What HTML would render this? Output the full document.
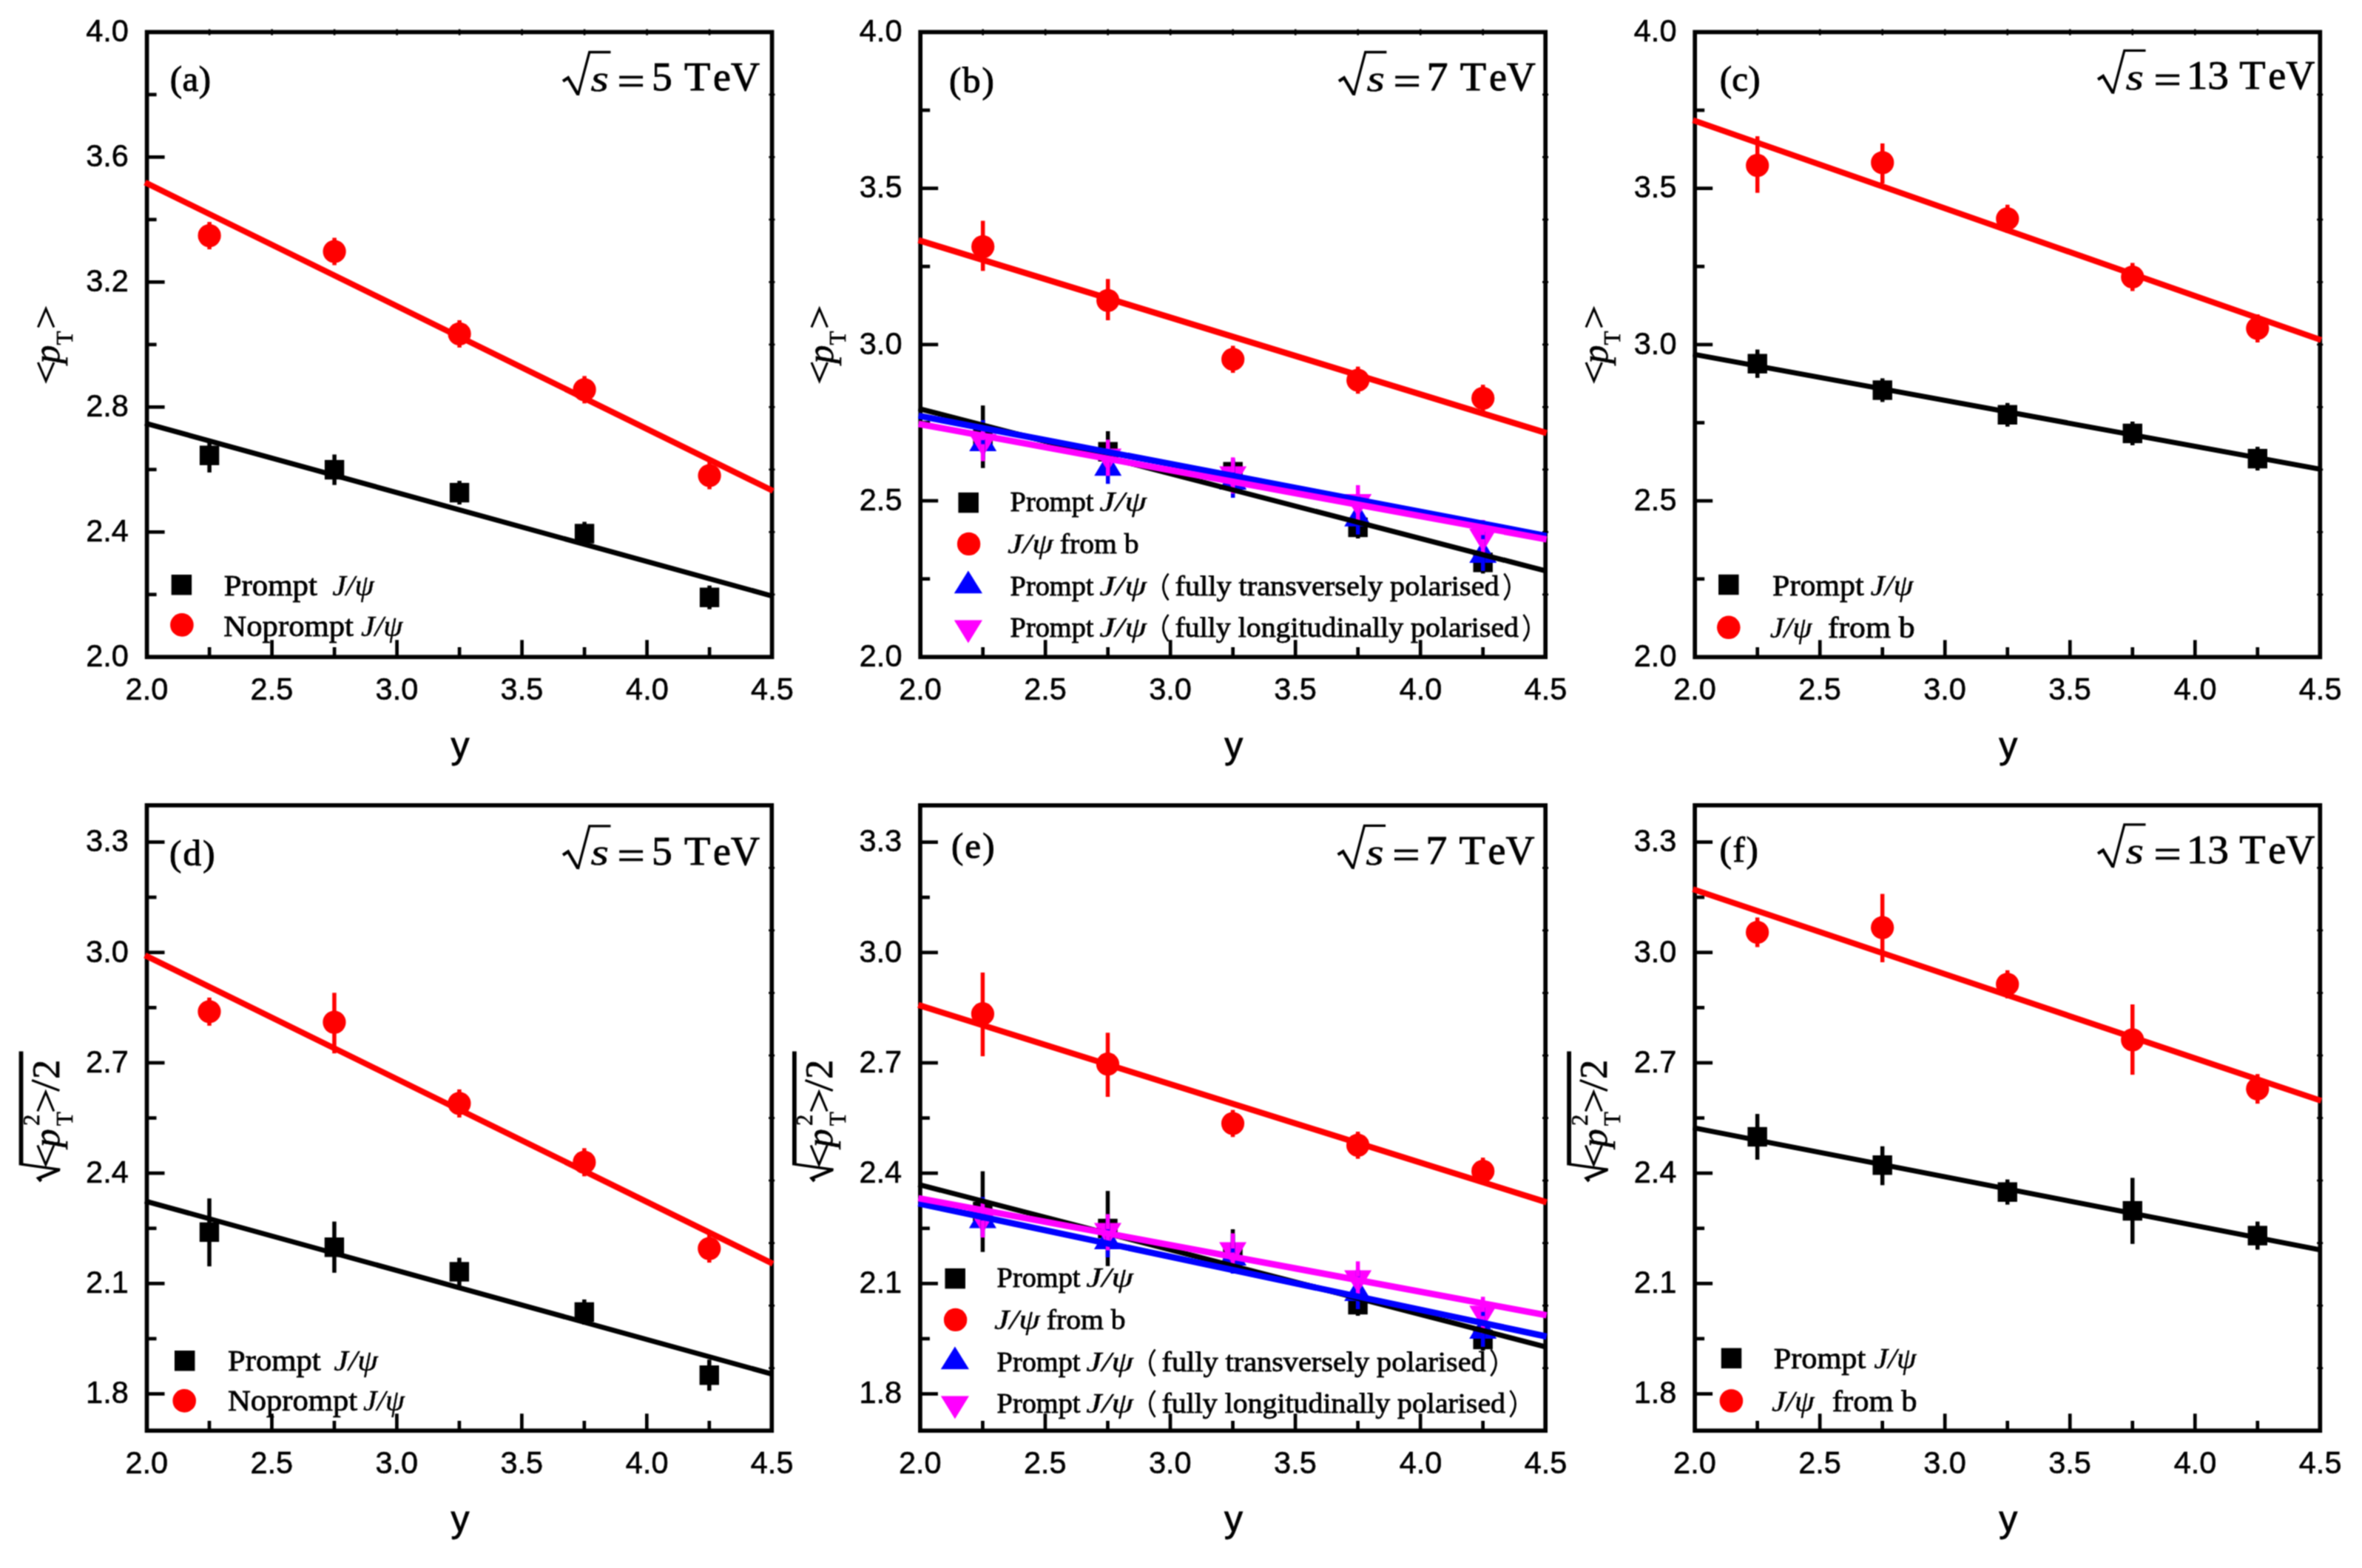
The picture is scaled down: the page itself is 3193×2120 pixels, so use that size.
<!DOCTYPE html>
<html><head><meta charset="utf-8"><title>chart</title>
<style>html,body{margin:0;padding:0;background:#fff}svg{display:block}text{font-kerning:none}</style></head>
<body><svg width="3193" height="2120" viewBox="0 0 3193 2120">
<defs><filter id="soft" color-interpolation-filters="sRGB" x="0" y="0" width="3193" height="2120" filterUnits="userSpaceOnUse"><feConvolveMatrix order="3" kernelMatrix="1 2 1 2 4 2 1 2 1" divisor="16" edgeMode="duplicate" preserveAlpha="true"/></filter></defs>
<rect width="3193" height="2120" fill="#fff"/>
<g filter="url(#soft)">
<rect width="3193" height="2120" fill="#fff"/>
<rect x="198.60" y="43.40" width="845.00" height="844.90" fill="none" stroke="#000" stroke-width="5.7"/>
<line x1="283.10" y1="888.30" x2="283.10" y2="875.00" stroke="#000" stroke-width="4.7" stroke-linecap="butt"/>
<line x1="367.60" y1="888.30" x2="367.60" y2="865.30" stroke="#000" stroke-width="4.7" stroke-linecap="butt"/>
<line x1="452.10" y1="888.30" x2="452.10" y2="875.00" stroke="#000" stroke-width="4.7" stroke-linecap="butt"/>
<line x1="536.60" y1="888.30" x2="536.60" y2="865.30" stroke="#000" stroke-width="4.7" stroke-linecap="butt"/>
<line x1="621.10" y1="888.30" x2="621.10" y2="875.00" stroke="#000" stroke-width="4.7" stroke-linecap="butt"/>
<line x1="705.60" y1="888.30" x2="705.60" y2="865.30" stroke="#000" stroke-width="4.7" stroke-linecap="butt"/>
<line x1="790.10" y1="888.30" x2="790.10" y2="875.00" stroke="#000" stroke-width="4.7" stroke-linecap="butt"/>
<line x1="874.60" y1="888.30" x2="874.60" y2="865.30" stroke="#000" stroke-width="4.7" stroke-linecap="butt"/>
<line x1="959.10" y1="888.30" x2="959.10" y2="875.00" stroke="#000" stroke-width="4.7" stroke-linecap="butt"/>
<line x1="198.60" y1="212.38" x2="222.60" y2="212.38" stroke="#000" stroke-width="4.7" stroke-linecap="butt"/>
<line x1="198.60" y1="381.36" x2="222.60" y2="381.36" stroke="#000" stroke-width="4.7" stroke-linecap="butt"/>
<line x1="198.60" y1="550.34" x2="222.60" y2="550.34" stroke="#000" stroke-width="4.7" stroke-linecap="butt"/>
<line x1="198.60" y1="719.32" x2="222.60" y2="719.32" stroke="#000" stroke-width="4.7" stroke-linecap="butt"/>
<line x1="198.60" y1="127.89" x2="211.60" y2="127.89" stroke="#000" stroke-width="4.7" stroke-linecap="butt"/>
<line x1="198.60" y1="296.87" x2="211.60" y2="296.87" stroke="#000" stroke-width="4.7" stroke-linecap="butt"/>
<line x1="198.60" y1="465.85" x2="211.60" y2="465.85" stroke="#000" stroke-width="4.7" stroke-linecap="butt"/>
<line x1="198.60" y1="634.83" x2="211.60" y2="634.83" stroke="#000" stroke-width="4.7" stroke-linecap="butt"/>
<line x1="198.60" y1="803.81" x2="211.60" y2="803.81" stroke="#000" stroke-width="4.7" stroke-linecap="butt"/>
<line x1="1039.40" y1="127.89" x2="1047.50" y2="127.89" stroke="#000" stroke-width="2.6" stroke-linecap="butt"/>
<line x1="1039.40" y1="212.38" x2="1047.50" y2="212.38" stroke="#000" stroke-width="2.6" stroke-linecap="butt"/>
<line x1="1039.40" y1="296.87" x2="1047.50" y2="296.87" stroke="#000" stroke-width="2.6" stroke-linecap="butt"/>
<line x1="1039.40" y1="381.36" x2="1047.50" y2="381.36" stroke="#000" stroke-width="2.6" stroke-linecap="butt"/>
<line x1="1039.40" y1="465.85" x2="1047.50" y2="465.85" stroke="#000" stroke-width="2.6" stroke-linecap="butt"/>
<line x1="1039.40" y1="550.34" x2="1047.50" y2="550.34" stroke="#000" stroke-width="2.6" stroke-linecap="butt"/>
<line x1="1039.40" y1="634.83" x2="1047.50" y2="634.83" stroke="#000" stroke-width="2.6" stroke-linecap="butt"/>
<line x1="1039.40" y1="719.32" x2="1047.50" y2="719.32" stroke="#000" stroke-width="2.6" stroke-linecap="butt"/>
<line x1="1039.40" y1="803.81" x2="1047.50" y2="803.81" stroke="#000" stroke-width="2.6" stroke-linecap="butt"/>
<line x1="283.10" y1="39.50" x2="283.10" y2="47.60" stroke="#000" stroke-width="2.6" stroke-linecap="butt"/>
<line x1="367.60" y1="39.50" x2="367.60" y2="47.60" stroke="#000" stroke-width="2.6" stroke-linecap="butt"/>
<line x1="452.10" y1="39.50" x2="452.10" y2="47.60" stroke="#000" stroke-width="2.6" stroke-linecap="butt"/>
<line x1="536.60" y1="39.50" x2="536.60" y2="47.60" stroke="#000" stroke-width="2.6" stroke-linecap="butt"/>
<line x1="621.10" y1="39.50" x2="621.10" y2="47.60" stroke="#000" stroke-width="2.6" stroke-linecap="butt"/>
<line x1="705.60" y1="39.50" x2="705.60" y2="47.60" stroke="#000" stroke-width="2.6" stroke-linecap="butt"/>
<line x1="790.10" y1="39.50" x2="790.10" y2="47.60" stroke="#000" stroke-width="2.6" stroke-linecap="butt"/>
<line x1="874.60" y1="39.50" x2="874.60" y2="47.60" stroke="#000" stroke-width="2.6" stroke-linecap="butt"/>
<line x1="959.10" y1="39.50" x2="959.10" y2="47.60" stroke="#000" stroke-width="2.6" stroke-linecap="butt"/>
<rect x="1244.20" y="43.40" width="845.00" height="844.90" fill="none" stroke="#000" stroke-width="5.7"/>
<line x1="1328.70" y1="888.30" x2="1328.70" y2="875.00" stroke="#000" stroke-width="4.7" stroke-linecap="butt"/>
<line x1="1413.20" y1="888.30" x2="1413.20" y2="865.30" stroke="#000" stroke-width="4.7" stroke-linecap="butt"/>
<line x1="1497.70" y1="888.30" x2="1497.70" y2="875.00" stroke="#000" stroke-width="4.7" stroke-linecap="butt"/>
<line x1="1582.20" y1="888.30" x2="1582.20" y2="865.30" stroke="#000" stroke-width="4.7" stroke-linecap="butt"/>
<line x1="1666.70" y1="888.30" x2="1666.70" y2="875.00" stroke="#000" stroke-width="4.7" stroke-linecap="butt"/>
<line x1="1751.20" y1="888.30" x2="1751.20" y2="865.30" stroke="#000" stroke-width="4.7" stroke-linecap="butt"/>
<line x1="1835.70" y1="888.30" x2="1835.70" y2="875.00" stroke="#000" stroke-width="4.7" stroke-linecap="butt"/>
<line x1="1920.20" y1="888.30" x2="1920.20" y2="865.30" stroke="#000" stroke-width="4.7" stroke-linecap="butt"/>
<line x1="2004.70" y1="888.30" x2="2004.70" y2="875.00" stroke="#000" stroke-width="4.7" stroke-linecap="butt"/>
<line x1="1244.20" y1="254.62" x2="1268.20" y2="254.62" stroke="#000" stroke-width="4.7" stroke-linecap="butt"/>
<line x1="1244.20" y1="465.85" x2="1268.20" y2="465.85" stroke="#000" stroke-width="4.7" stroke-linecap="butt"/>
<line x1="1244.20" y1="677.07" x2="1268.20" y2="677.07" stroke="#000" stroke-width="4.7" stroke-linecap="butt"/>
<line x1="1244.20" y1="149.01" x2="1257.20" y2="149.01" stroke="#000" stroke-width="4.7" stroke-linecap="butt"/>
<line x1="1244.20" y1="360.24" x2="1257.20" y2="360.24" stroke="#000" stroke-width="4.7" stroke-linecap="butt"/>
<line x1="1244.20" y1="571.46" x2="1257.20" y2="571.46" stroke="#000" stroke-width="4.7" stroke-linecap="butt"/>
<line x1="1244.20" y1="782.69" x2="1257.20" y2="782.69" stroke="#000" stroke-width="4.7" stroke-linecap="butt"/>
<line x1="2085.00" y1="127.89" x2="2093.10" y2="127.89" stroke="#000" stroke-width="2.6" stroke-linecap="butt"/>
<line x1="2085.00" y1="212.38" x2="2093.10" y2="212.38" stroke="#000" stroke-width="2.6" stroke-linecap="butt"/>
<line x1="2085.00" y1="296.87" x2="2093.10" y2="296.87" stroke="#000" stroke-width="2.6" stroke-linecap="butt"/>
<line x1="2085.00" y1="381.36" x2="2093.10" y2="381.36" stroke="#000" stroke-width="2.6" stroke-linecap="butt"/>
<line x1="2085.00" y1="465.85" x2="2093.10" y2="465.85" stroke="#000" stroke-width="2.6" stroke-linecap="butt"/>
<line x1="2085.00" y1="550.34" x2="2093.10" y2="550.34" stroke="#000" stroke-width="2.6" stroke-linecap="butt"/>
<line x1="2085.00" y1="634.83" x2="2093.10" y2="634.83" stroke="#000" stroke-width="2.6" stroke-linecap="butt"/>
<line x1="2085.00" y1="719.32" x2="2093.10" y2="719.32" stroke="#000" stroke-width="2.6" stroke-linecap="butt"/>
<line x1="2085.00" y1="803.81" x2="2093.10" y2="803.81" stroke="#000" stroke-width="2.6" stroke-linecap="butt"/>
<line x1="1328.70" y1="39.50" x2="1328.70" y2="47.60" stroke="#000" stroke-width="2.6" stroke-linecap="butt"/>
<line x1="1413.20" y1="39.50" x2="1413.20" y2="47.60" stroke="#000" stroke-width="2.6" stroke-linecap="butt"/>
<line x1="1497.70" y1="39.50" x2="1497.70" y2="47.60" stroke="#000" stroke-width="2.6" stroke-linecap="butt"/>
<line x1="1582.20" y1="39.50" x2="1582.20" y2="47.60" stroke="#000" stroke-width="2.6" stroke-linecap="butt"/>
<line x1="1666.70" y1="39.50" x2="1666.70" y2="47.60" stroke="#000" stroke-width="2.6" stroke-linecap="butt"/>
<line x1="1751.20" y1="39.50" x2="1751.20" y2="47.60" stroke="#000" stroke-width="2.6" stroke-linecap="butt"/>
<line x1="1835.70" y1="39.50" x2="1835.70" y2="47.60" stroke="#000" stroke-width="2.6" stroke-linecap="butt"/>
<line x1="1920.20" y1="39.50" x2="1920.20" y2="47.60" stroke="#000" stroke-width="2.6" stroke-linecap="butt"/>
<line x1="2004.70" y1="39.50" x2="2004.70" y2="47.60" stroke="#000" stroke-width="2.6" stroke-linecap="butt"/>
<rect x="2291.20" y="43.40" width="845.10" height="845.00" fill="none" stroke="#000" stroke-width="5.7"/>
<line x1="2375.71" y1="888.40" x2="2375.71" y2="875.10" stroke="#000" stroke-width="4.7" stroke-linecap="butt"/>
<line x1="2460.22" y1="888.40" x2="2460.22" y2="865.40" stroke="#000" stroke-width="4.7" stroke-linecap="butt"/>
<line x1="2544.73" y1="888.40" x2="2544.73" y2="875.10" stroke="#000" stroke-width="4.7" stroke-linecap="butt"/>
<line x1="2629.24" y1="888.40" x2="2629.24" y2="865.40" stroke="#000" stroke-width="4.7" stroke-linecap="butt"/>
<line x1="2713.75" y1="888.40" x2="2713.75" y2="875.10" stroke="#000" stroke-width="4.7" stroke-linecap="butt"/>
<line x1="2798.26" y1="888.40" x2="2798.26" y2="865.40" stroke="#000" stroke-width="4.7" stroke-linecap="butt"/>
<line x1="2882.77" y1="888.40" x2="2882.77" y2="875.10" stroke="#000" stroke-width="4.7" stroke-linecap="butt"/>
<line x1="2967.28" y1="888.40" x2="2967.28" y2="865.40" stroke="#000" stroke-width="4.7" stroke-linecap="butt"/>
<line x1="3051.79" y1="888.40" x2="3051.79" y2="875.10" stroke="#000" stroke-width="4.7" stroke-linecap="butt"/>
<line x1="2291.20" y1="254.65" x2="2315.20" y2="254.65" stroke="#000" stroke-width="4.7" stroke-linecap="butt"/>
<line x1="2291.20" y1="465.90" x2="2315.20" y2="465.90" stroke="#000" stroke-width="4.7" stroke-linecap="butt"/>
<line x1="2291.20" y1="677.15" x2="2315.20" y2="677.15" stroke="#000" stroke-width="4.7" stroke-linecap="butt"/>
<line x1="2291.20" y1="149.03" x2="2304.20" y2="149.03" stroke="#000" stroke-width="4.7" stroke-linecap="butt"/>
<line x1="2291.20" y1="360.27" x2="2304.20" y2="360.27" stroke="#000" stroke-width="4.7" stroke-linecap="butt"/>
<line x1="2291.20" y1="571.52" x2="2304.20" y2="571.52" stroke="#000" stroke-width="4.7" stroke-linecap="butt"/>
<line x1="2291.20" y1="782.77" x2="2304.20" y2="782.77" stroke="#000" stroke-width="4.7" stroke-linecap="butt"/>
<line x1="3132.10" y1="127.90" x2="3140.20" y2="127.90" stroke="#000" stroke-width="2.6" stroke-linecap="butt"/>
<line x1="3132.10" y1="212.40" x2="3140.20" y2="212.40" stroke="#000" stroke-width="2.6" stroke-linecap="butt"/>
<line x1="3132.10" y1="296.90" x2="3140.20" y2="296.90" stroke="#000" stroke-width="2.6" stroke-linecap="butt"/>
<line x1="3132.10" y1="381.40" x2="3140.20" y2="381.40" stroke="#000" stroke-width="2.6" stroke-linecap="butt"/>
<line x1="3132.10" y1="465.90" x2="3140.20" y2="465.90" stroke="#000" stroke-width="2.6" stroke-linecap="butt"/>
<line x1="3132.10" y1="550.40" x2="3140.20" y2="550.40" stroke="#000" stroke-width="2.6" stroke-linecap="butt"/>
<line x1="3132.10" y1="634.90" x2="3140.20" y2="634.90" stroke="#000" stroke-width="2.6" stroke-linecap="butt"/>
<line x1="3132.10" y1="719.40" x2="3140.20" y2="719.40" stroke="#000" stroke-width="2.6" stroke-linecap="butt"/>
<line x1="3132.10" y1="803.90" x2="3140.20" y2="803.90" stroke="#000" stroke-width="2.6" stroke-linecap="butt"/>
<line x1="2375.71" y1="39.50" x2="2375.71" y2="47.60" stroke="#000" stroke-width="2.6" stroke-linecap="butt"/>
<line x1="2460.22" y1="39.50" x2="2460.22" y2="47.60" stroke="#000" stroke-width="2.6" stroke-linecap="butt"/>
<line x1="2544.73" y1="39.50" x2="2544.73" y2="47.60" stroke="#000" stroke-width="2.6" stroke-linecap="butt"/>
<line x1="2629.24" y1="39.50" x2="2629.24" y2="47.60" stroke="#000" stroke-width="2.6" stroke-linecap="butt"/>
<line x1="2713.75" y1="39.50" x2="2713.75" y2="47.60" stroke="#000" stroke-width="2.6" stroke-linecap="butt"/>
<line x1="2798.26" y1="39.50" x2="2798.26" y2="47.60" stroke="#000" stroke-width="2.6" stroke-linecap="butt"/>
<line x1="2882.77" y1="39.50" x2="2882.77" y2="47.60" stroke="#000" stroke-width="2.6" stroke-linecap="butt"/>
<line x1="2967.28" y1="39.50" x2="2967.28" y2="47.60" stroke="#000" stroke-width="2.6" stroke-linecap="butt"/>
<line x1="3051.79" y1="39.50" x2="3051.79" y2="47.60" stroke="#000" stroke-width="2.6" stroke-linecap="butt"/>
<rect x="198.50" y="1088.80" width="844.80" height="845.50" fill="none" stroke="#000" stroke-width="5.7"/>
<line x1="282.98" y1="1934.30" x2="282.98" y2="1921.00" stroke="#000" stroke-width="4.7" stroke-linecap="butt"/>
<line x1="367.46" y1="1934.30" x2="367.46" y2="1911.30" stroke="#000" stroke-width="4.7" stroke-linecap="butt"/>
<line x1="451.94" y1="1934.30" x2="451.94" y2="1921.00" stroke="#000" stroke-width="4.7" stroke-linecap="butt"/>
<line x1="536.42" y1="1934.30" x2="536.42" y2="1911.30" stroke="#000" stroke-width="4.7" stroke-linecap="butt"/>
<line x1="620.90" y1="1934.30" x2="620.90" y2="1921.00" stroke="#000" stroke-width="4.7" stroke-linecap="butt"/>
<line x1="705.38" y1="1934.30" x2="705.38" y2="1911.30" stroke="#000" stroke-width="4.7" stroke-linecap="butt"/>
<line x1="789.86" y1="1934.30" x2="789.86" y2="1921.00" stroke="#000" stroke-width="4.7" stroke-linecap="butt"/>
<line x1="874.34" y1="1934.30" x2="874.34" y2="1911.30" stroke="#000" stroke-width="4.7" stroke-linecap="butt"/>
<line x1="958.82" y1="1934.30" x2="958.82" y2="1921.00" stroke="#000" stroke-width="4.7" stroke-linecap="butt"/>
<line x1="198.50" y1="1138.54" x2="222.50" y2="1138.54" stroke="#000" stroke-width="4.7" stroke-linecap="butt"/>
<line x1="198.50" y1="1287.74" x2="222.50" y2="1287.74" stroke="#000" stroke-width="4.7" stroke-linecap="butt"/>
<line x1="198.50" y1="1436.95" x2="222.50" y2="1436.95" stroke="#000" stroke-width="4.7" stroke-linecap="butt"/>
<line x1="198.50" y1="1586.15" x2="222.50" y2="1586.15" stroke="#000" stroke-width="4.7" stroke-linecap="butt"/>
<line x1="198.50" y1="1735.36" x2="222.50" y2="1735.36" stroke="#000" stroke-width="4.7" stroke-linecap="butt"/>
<line x1="198.50" y1="1884.56" x2="222.50" y2="1884.56" stroke="#000" stroke-width="4.7" stroke-linecap="butt"/>
<line x1="198.50" y1="1213.14" x2="211.50" y2="1213.14" stroke="#000" stroke-width="4.7" stroke-linecap="butt"/>
<line x1="198.50" y1="1362.34" x2="211.50" y2="1362.34" stroke="#000" stroke-width="4.7" stroke-linecap="butt"/>
<line x1="198.50" y1="1511.55" x2="211.50" y2="1511.55" stroke="#000" stroke-width="4.7" stroke-linecap="butt"/>
<line x1="198.50" y1="1660.76" x2="211.50" y2="1660.76" stroke="#000" stroke-width="4.7" stroke-linecap="butt"/>
<line x1="198.50" y1="1809.96" x2="211.50" y2="1809.96" stroke="#000" stroke-width="4.7" stroke-linecap="butt"/>
<line x1="1039.10" y1="1173.35" x2="1047.20" y2="1173.35" stroke="#000" stroke-width="2.6" stroke-linecap="butt"/>
<line x1="1039.10" y1="1257.90" x2="1047.20" y2="1257.90" stroke="#000" stroke-width="2.6" stroke-linecap="butt"/>
<line x1="1039.10" y1="1342.45" x2="1047.20" y2="1342.45" stroke="#000" stroke-width="2.6" stroke-linecap="butt"/>
<line x1="1039.10" y1="1427.00" x2="1047.20" y2="1427.00" stroke="#000" stroke-width="2.6" stroke-linecap="butt"/>
<line x1="1039.10" y1="1511.55" x2="1047.20" y2="1511.55" stroke="#000" stroke-width="2.6" stroke-linecap="butt"/>
<line x1="1039.10" y1="1596.10" x2="1047.20" y2="1596.10" stroke="#000" stroke-width="2.6" stroke-linecap="butt"/>
<line x1="1039.10" y1="1680.65" x2="1047.20" y2="1680.65" stroke="#000" stroke-width="2.6" stroke-linecap="butt"/>
<line x1="1039.10" y1="1765.20" x2="1047.20" y2="1765.20" stroke="#000" stroke-width="2.6" stroke-linecap="butt"/>
<line x1="1039.10" y1="1849.75" x2="1047.20" y2="1849.75" stroke="#000" stroke-width="2.6" stroke-linecap="butt"/>
<rect x="1243.90" y="1088.90" width="845.30" height="845.40" fill="none" stroke="#000" stroke-width="5.7"/>
<line x1="1328.43" y1="1934.30" x2="1328.43" y2="1921.00" stroke="#000" stroke-width="4.7" stroke-linecap="butt"/>
<line x1="1412.96" y1="1934.30" x2="1412.96" y2="1911.30" stroke="#000" stroke-width="4.7" stroke-linecap="butt"/>
<line x1="1497.49" y1="1934.30" x2="1497.49" y2="1921.00" stroke="#000" stroke-width="4.7" stroke-linecap="butt"/>
<line x1="1582.02" y1="1934.30" x2="1582.02" y2="1911.30" stroke="#000" stroke-width="4.7" stroke-linecap="butt"/>
<line x1="1666.55" y1="1934.30" x2="1666.55" y2="1921.00" stroke="#000" stroke-width="4.7" stroke-linecap="butt"/>
<line x1="1751.08" y1="1934.30" x2="1751.08" y2="1911.30" stroke="#000" stroke-width="4.7" stroke-linecap="butt"/>
<line x1="1835.61" y1="1934.30" x2="1835.61" y2="1921.00" stroke="#000" stroke-width="4.7" stroke-linecap="butt"/>
<line x1="1920.14" y1="1934.30" x2="1920.14" y2="1911.30" stroke="#000" stroke-width="4.7" stroke-linecap="butt"/>
<line x1="2004.67" y1="1934.30" x2="2004.67" y2="1921.00" stroke="#000" stroke-width="4.7" stroke-linecap="butt"/>
<line x1="1243.90" y1="1138.63" x2="1267.90" y2="1138.63" stroke="#000" stroke-width="4.7" stroke-linecap="butt"/>
<line x1="1243.90" y1="1287.82" x2="1267.90" y2="1287.82" stroke="#000" stroke-width="4.7" stroke-linecap="butt"/>
<line x1="1243.90" y1="1437.01" x2="1267.90" y2="1437.01" stroke="#000" stroke-width="4.7" stroke-linecap="butt"/>
<line x1="1243.90" y1="1586.19" x2="1267.90" y2="1586.19" stroke="#000" stroke-width="4.7" stroke-linecap="butt"/>
<line x1="1243.90" y1="1735.38" x2="1267.90" y2="1735.38" stroke="#000" stroke-width="4.7" stroke-linecap="butt"/>
<line x1="1243.90" y1="1884.57" x2="1267.90" y2="1884.57" stroke="#000" stroke-width="4.7" stroke-linecap="butt"/>
<line x1="1243.90" y1="1213.22" x2="1256.90" y2="1213.22" stroke="#000" stroke-width="4.7" stroke-linecap="butt"/>
<line x1="1243.90" y1="1362.41" x2="1256.90" y2="1362.41" stroke="#000" stroke-width="4.7" stroke-linecap="butt"/>
<line x1="1243.90" y1="1511.60" x2="1256.90" y2="1511.60" stroke="#000" stroke-width="4.7" stroke-linecap="butt"/>
<line x1="1243.90" y1="1660.79" x2="1256.90" y2="1660.79" stroke="#000" stroke-width="4.7" stroke-linecap="butt"/>
<line x1="1243.90" y1="1809.98" x2="1256.90" y2="1809.98" stroke="#000" stroke-width="4.7" stroke-linecap="butt"/>
<line x1="2085.00" y1="1173.44" x2="2093.10" y2="1173.44" stroke="#000" stroke-width="2.6" stroke-linecap="butt"/>
<line x1="2085.00" y1="1257.98" x2="2093.10" y2="1257.98" stroke="#000" stroke-width="2.6" stroke-linecap="butt"/>
<line x1="2085.00" y1="1342.52" x2="2093.10" y2="1342.52" stroke="#000" stroke-width="2.6" stroke-linecap="butt"/>
<line x1="2085.00" y1="1427.06" x2="2093.10" y2="1427.06" stroke="#000" stroke-width="2.6" stroke-linecap="butt"/>
<line x1="2085.00" y1="1511.60" x2="2093.10" y2="1511.60" stroke="#000" stroke-width="2.6" stroke-linecap="butt"/>
<line x1="2085.00" y1="1596.14" x2="2093.10" y2="1596.14" stroke="#000" stroke-width="2.6" stroke-linecap="butt"/>
<line x1="2085.00" y1="1680.68" x2="2093.10" y2="1680.68" stroke="#000" stroke-width="2.6" stroke-linecap="butt"/>
<line x1="2085.00" y1="1765.22" x2="2093.10" y2="1765.22" stroke="#000" stroke-width="2.6" stroke-linecap="butt"/>
<line x1="2085.00" y1="1849.76" x2="2093.10" y2="1849.76" stroke="#000" stroke-width="2.6" stroke-linecap="butt"/>
<rect x="2291.10" y="1088.80" width="845.20" height="845.50" fill="none" stroke="#000" stroke-width="5.7"/>
<line x1="2375.62" y1="1934.30" x2="2375.62" y2="1921.00" stroke="#000" stroke-width="4.7" stroke-linecap="butt"/>
<line x1="2460.14" y1="1934.30" x2="2460.14" y2="1911.30" stroke="#000" stroke-width="4.7" stroke-linecap="butt"/>
<line x1="2544.66" y1="1934.30" x2="2544.66" y2="1921.00" stroke="#000" stroke-width="4.7" stroke-linecap="butt"/>
<line x1="2629.18" y1="1934.30" x2="2629.18" y2="1911.30" stroke="#000" stroke-width="4.7" stroke-linecap="butt"/>
<line x1="2713.70" y1="1934.30" x2="2713.70" y2="1921.00" stroke="#000" stroke-width="4.7" stroke-linecap="butt"/>
<line x1="2798.22" y1="1934.30" x2="2798.22" y2="1911.30" stroke="#000" stroke-width="4.7" stroke-linecap="butt"/>
<line x1="2882.74" y1="1934.30" x2="2882.74" y2="1921.00" stroke="#000" stroke-width="4.7" stroke-linecap="butt"/>
<line x1="2967.26" y1="1934.30" x2="2967.26" y2="1911.30" stroke="#000" stroke-width="4.7" stroke-linecap="butt"/>
<line x1="3051.78" y1="1934.30" x2="3051.78" y2="1921.00" stroke="#000" stroke-width="4.7" stroke-linecap="butt"/>
<line x1="2291.10" y1="1138.54" x2="2315.10" y2="1138.54" stroke="#000" stroke-width="4.7" stroke-linecap="butt"/>
<line x1="2291.10" y1="1287.74" x2="2315.10" y2="1287.74" stroke="#000" stroke-width="4.7" stroke-linecap="butt"/>
<line x1="2291.10" y1="1436.95" x2="2315.10" y2="1436.95" stroke="#000" stroke-width="4.7" stroke-linecap="butt"/>
<line x1="2291.10" y1="1586.15" x2="2315.10" y2="1586.15" stroke="#000" stroke-width="4.7" stroke-linecap="butt"/>
<line x1="2291.10" y1="1735.36" x2="2315.10" y2="1735.36" stroke="#000" stroke-width="4.7" stroke-linecap="butt"/>
<line x1="2291.10" y1="1884.56" x2="2315.10" y2="1884.56" stroke="#000" stroke-width="4.7" stroke-linecap="butt"/>
<line x1="2291.10" y1="1213.14" x2="2304.10" y2="1213.14" stroke="#000" stroke-width="4.7" stroke-linecap="butt"/>
<line x1="2291.10" y1="1362.34" x2="2304.10" y2="1362.34" stroke="#000" stroke-width="4.7" stroke-linecap="butt"/>
<line x1="2291.10" y1="1511.55" x2="2304.10" y2="1511.55" stroke="#000" stroke-width="4.7" stroke-linecap="butt"/>
<line x1="2291.10" y1="1660.76" x2="2304.10" y2="1660.76" stroke="#000" stroke-width="4.7" stroke-linecap="butt"/>
<line x1="2291.10" y1="1809.96" x2="2304.10" y2="1809.96" stroke="#000" stroke-width="4.7" stroke-linecap="butt"/>
<line x1="3132.10" y1="1173.35" x2="3140.20" y2="1173.35" stroke="#000" stroke-width="2.6" stroke-linecap="butt"/>
<line x1="3132.10" y1="1257.90" x2="3140.20" y2="1257.90" stroke="#000" stroke-width="2.6" stroke-linecap="butt"/>
<line x1="3132.10" y1="1342.45" x2="3140.20" y2="1342.45" stroke="#000" stroke-width="2.6" stroke-linecap="butt"/>
<line x1="3132.10" y1="1427.00" x2="3140.20" y2="1427.00" stroke="#000" stroke-width="2.6" stroke-linecap="butt"/>
<line x1="3132.10" y1="1511.55" x2="3140.20" y2="1511.55" stroke="#000" stroke-width="2.6" stroke-linecap="butt"/>
<line x1="3132.10" y1="1596.10" x2="3140.20" y2="1596.10" stroke="#000" stroke-width="2.6" stroke-linecap="butt"/>
<line x1="3132.10" y1="1680.65" x2="3140.20" y2="1680.65" stroke="#000" stroke-width="2.6" stroke-linecap="butt"/>
<line x1="3132.10" y1="1765.20" x2="3140.20" y2="1765.20" stroke="#000" stroke-width="2.6" stroke-linecap="butt"/>
<line x1="3132.10" y1="1849.75" x2="3140.20" y2="1849.75" stroke="#000" stroke-width="2.6" stroke-linecap="butt"/>
<line x1="283.10" y1="598.80" x2="283.10" y2="638.80" stroke="#000000" stroke-width="5.5" stroke-linecap="butt"/>
<rect x="269.90" y="602.50" width="26.4" height="26.4" fill="#000000"/>
<line x1="452.10" y1="614.50" x2="452.10" y2="655.70" stroke="#000000" stroke-width="5.5" stroke-linecap="butt"/>
<rect x="438.90" y="621.90" width="26.4" height="26.4" fill="#000000"/>
<line x1="621.10" y1="650.10" x2="621.10" y2="682.10" stroke="#000000" stroke-width="5.5" stroke-linecap="butt"/>
<rect x="607.90" y="652.90" width="26.4" height="26.4" fill="#000000"/>
<line x1="790.10" y1="705.50" x2="790.10" y2="737.50" stroke="#000000" stroke-width="5.5" stroke-linecap="butt"/>
<rect x="776.90" y="708.30" width="26.4" height="26.4" fill="#000000"/>
<line x1="959.10" y1="791.70" x2="959.10" y2="823.70" stroke="#000000" stroke-width="5.5" stroke-linecap="butt"/>
<rect x="945.90" y="794.50" width="26.4" height="26.4" fill="#000000"/>
<line x1="283.10" y1="300.10" x2="283.10" y2="337.10" stroke="#ff0000" stroke-width="5.5" stroke-linecap="butt"/>
<circle cx="283.10" cy="318.60" r="15.6" fill="#ff0000"/>
<line x1="452.10" y1="321.50" x2="452.10" y2="358.50" stroke="#ff0000" stroke-width="5.5" stroke-linecap="butt"/>
<circle cx="452.10" cy="340.00" r="15.6" fill="#ff0000"/>
<line x1="621.10" y1="432.90" x2="621.10" y2="469.90" stroke="#ff0000" stroke-width="5.5" stroke-linecap="butt"/>
<circle cx="621.10" cy="451.40" r="15.6" fill="#ff0000"/>
<line x1="790.10" y1="508.40" x2="790.10" y2="545.40" stroke="#ff0000" stroke-width="5.5" stroke-linecap="butt"/>
<circle cx="790.10" cy="526.90" r="15.6" fill="#ff0000"/>
<line x1="959.10" y1="624.50" x2="959.10" y2="661.50" stroke="#ff0000" stroke-width="5.5" stroke-linecap="butt"/>
<circle cx="959.10" cy="643.00" r="15.6" fill="#ff0000"/>
<line x1="196.10" y1="572.11" x2="1045.10" y2="806.21" stroke="#000000" stroke-width="6.9" stroke-linecap="butt"/>
<line x1="196.10" y1="246.67" x2="1045.10" y2="663.74" stroke="#ff0000" stroke-width="8.0" stroke-linecap="butt"/>
<line x1="2375.71" y1="472.60" x2="2375.71" y2="510.90" stroke="#000000" stroke-width="5.5" stroke-linecap="butt"/>
<rect x="2362.51" y="478.50" width="26.4" height="26.4" fill="#000000"/>
<line x1="2544.73" y1="511.50" x2="2544.73" y2="543.50" stroke="#000000" stroke-width="5.5" stroke-linecap="butt"/>
<rect x="2531.53" y="514.30" width="26.4" height="26.4" fill="#000000"/>
<line x1="2713.75" y1="544.80" x2="2713.75" y2="576.80" stroke="#000000" stroke-width="5.5" stroke-linecap="butt"/>
<rect x="2700.55" y="547.60" width="26.4" height="26.4" fill="#000000"/>
<line x1="2882.77" y1="570.00" x2="2882.77" y2="602.00" stroke="#000000" stroke-width="5.5" stroke-linecap="butt"/>
<rect x="2869.57" y="572.80" width="26.4" height="26.4" fill="#000000"/>
<line x1="3051.79" y1="604.10" x2="3051.79" y2="636.10" stroke="#000000" stroke-width="5.5" stroke-linecap="butt"/>
<rect x="3038.59" y="606.90" width="26.4" height="26.4" fill="#000000"/>
<line x1="2375.71" y1="184.20" x2="2375.71" y2="260.70" stroke="#ff0000" stroke-width="5.5" stroke-linecap="butt"/>
<circle cx="2375.71" cy="223.70" r="15.6" fill="#ff0000"/>
<line x1="2544.73" y1="193.90" x2="2544.73" y2="248.00" stroke="#ff0000" stroke-width="5.5" stroke-linecap="butt"/>
<circle cx="2544.73" cy="219.90" r="15.6" fill="#ff0000"/>
<line x1="2713.75" y1="276.80" x2="2713.75" y2="314.80" stroke="#ff0000" stroke-width="5.5" stroke-linecap="butt"/>
<circle cx="2713.75" cy="295.80" r="15.6" fill="#ff0000"/>
<line x1="2882.77" y1="355.50" x2="2882.77" y2="393.50" stroke="#ff0000" stroke-width="5.5" stroke-linecap="butt"/>
<circle cx="2882.77" cy="374.50" r="15.6" fill="#ff0000"/>
<line x1="3051.79" y1="425.00" x2="3051.79" y2="463.00" stroke="#ff0000" stroke-width="5.5" stroke-linecap="butt"/>
<circle cx="3051.79" cy="444.00" r="15.6" fill="#ff0000"/>
<line x1="2288.70" y1="478.84" x2="3137.80" y2="634.68" stroke="#000000" stroke-width="6.9" stroke-linecap="butt"/>
<line x1="2288.70" y1="162.42" x2="3137.80" y2="459.83" stroke="#ff0000" stroke-width="8.0" stroke-linecap="butt"/>
<line x1="282.98" y1="1620.30" x2="282.98" y2="1712.20" stroke="#000000" stroke-width="5.5" stroke-linecap="butt"/>
<rect x="269.78" y="1652.70" width="26.4" height="26.4" fill="#000000"/>
<line x1="451.94" y1="1651.60" x2="451.94" y2="1720.80" stroke="#000000" stroke-width="5.5" stroke-linecap="butt"/>
<rect x="438.74" y="1673.10" width="26.4" height="26.4" fill="#000000"/>
<line x1="620.90" y1="1700.50" x2="620.90" y2="1738.50" stroke="#000000" stroke-width="5.5" stroke-linecap="butt"/>
<rect x="607.70" y="1706.30" width="26.4" height="26.4" fill="#000000"/>
<line x1="789.86" y1="1756.90" x2="789.86" y2="1790.90" stroke="#000000" stroke-width="5.5" stroke-linecap="butt"/>
<rect x="776.66" y="1760.70" width="26.4" height="26.4" fill="#000000"/>
<line x1="958.82" y1="1838.30" x2="958.82" y2="1880.30" stroke="#000000" stroke-width="5.5" stroke-linecap="butt"/>
<rect x="945.62" y="1846.10" width="26.4" height="26.4" fill="#000000"/>
<line x1="282.98" y1="1348.80" x2="282.98" y2="1386.80" stroke="#ff0000" stroke-width="5.5" stroke-linecap="butt"/>
<circle cx="282.98" cy="1367.80" r="15.6" fill="#ff0000"/>
<line x1="451.94" y1="1342.30" x2="451.94" y2="1424.20" stroke="#ff0000" stroke-width="5.5" stroke-linecap="butt"/>
<circle cx="451.94" cy="1382.10" r="15.6" fill="#ff0000"/>
<line x1="620.90" y1="1472.90" x2="620.90" y2="1510.90" stroke="#ff0000" stroke-width="5.5" stroke-linecap="butt"/>
<circle cx="620.90" cy="1491.90" r="15.6" fill="#ff0000"/>
<line x1="789.86" y1="1552.40" x2="789.86" y2="1590.40" stroke="#ff0000" stroke-width="5.5" stroke-linecap="butt"/>
<circle cx="789.86" cy="1571.40" r="15.6" fill="#ff0000"/>
<line x1="958.82" y1="1669.10" x2="958.82" y2="1707.10" stroke="#ff0000" stroke-width="5.5" stroke-linecap="butt"/>
<circle cx="958.82" cy="1688.10" r="15.6" fill="#ff0000"/>
<line x1="196.00" y1="1623.81" x2="1044.80" y2="1858.11" stroke="#000000" stroke-width="6.9" stroke-linecap="butt"/>
<line x1="196.00" y1="1291.57" x2="1044.80" y2="1708.64" stroke="#ff0000" stroke-width="8.0" stroke-linecap="butt"/>
<line x1="2375.62" y1="1506.10" x2="2375.62" y2="1567.90" stroke="#000000" stroke-width="5.5" stroke-linecap="butt"/>
<rect x="2362.42" y="1523.80" width="26.4" height="26.4" fill="#000000"/>
<line x1="2544.66" y1="1549.80" x2="2544.66" y2="1602.40" stroke="#000000" stroke-width="5.5" stroke-linecap="butt"/>
<rect x="2531.46" y="1562.10" width="26.4" height="26.4" fill="#000000"/>
<line x1="2713.70" y1="1594.70" x2="2713.70" y2="1628.70" stroke="#000000" stroke-width="5.5" stroke-linecap="butt"/>
<rect x="2700.50" y="1598.50" width="26.4" height="26.4" fill="#000000"/>
<line x1="2882.74" y1="1592.50" x2="2882.74" y2="1681.80" stroke="#000000" stroke-width="5.5" stroke-linecap="butt"/>
<rect x="2869.54" y="1623.90" width="26.4" height="26.4" fill="#000000"/>
<line x1="3051.78" y1="1651.60" x2="3051.78" y2="1689.60" stroke="#000000" stroke-width="5.5" stroke-linecap="butt"/>
<rect x="3038.58" y="1657.40" width="26.4" height="26.4" fill="#000000"/>
<line x1="2375.62" y1="1240.50" x2="2375.62" y2="1280.50" stroke="#ff0000" stroke-width="5.5" stroke-linecap="butt"/>
<circle cx="2375.62" cy="1260.50" r="15.6" fill="#ff0000"/>
<line x1="2544.66" y1="1208.60" x2="2544.66" y2="1301.00" stroke="#ff0000" stroke-width="5.5" stroke-linecap="butt"/>
<circle cx="2544.66" cy="1254.20" r="15.6" fill="#ff0000"/>
<line x1="2713.70" y1="1311.80" x2="2713.70" y2="1349.80" stroke="#ff0000" stroke-width="5.5" stroke-linecap="butt"/>
<circle cx="2713.70" cy="1330.80" r="15.6" fill="#ff0000"/>
<line x1="2882.74" y1="1358.00" x2="2882.74" y2="1453.10" stroke="#ff0000" stroke-width="5.5" stroke-linecap="butt"/>
<circle cx="2882.74" cy="1405.90" r="15.6" fill="#ff0000"/>
<line x1="3051.78" y1="1452.20" x2="3051.78" y2="1492.20" stroke="#ff0000" stroke-width="5.5" stroke-linecap="butt"/>
<circle cx="3051.78" cy="1472.20" r="15.6" fill="#ff0000"/>
<line x1="2288.60" y1="1524.71" x2="3137.80" y2="1690.09" stroke="#000000" stroke-width="6.9" stroke-linecap="butt"/>
<line x1="2288.60" y1="1202.26" x2="3137.80" y2="1488.31" stroke="#ff0000" stroke-width="8.0" stroke-linecap="butt"/>
<rect x="1315.50" y="577.30" width="26.4" height="26.4" fill="#000000"/>
<rect x="1484.50" y="597.60" width="26.4" height="26.4" fill="#000000"/>
<rect x="1653.50" y="624.60" width="26.4" height="26.4" fill="#000000"/>
<rect x="1822.50" y="699.80" width="26.4" height="26.4" fill="#000000"/>
<rect x="1991.50" y="747.20" width="26.4" height="26.4" fill="#000000"/>
<line x1="1328.70" y1="298.50" x2="1328.70" y2="366.30" stroke="#ff0000" stroke-width="5.5" stroke-linecap="butt"/>
<circle cx="1328.70" cy="333.60" r="15.6" fill="#ff0000"/>
<line x1="1497.70" y1="377.20" x2="1497.70" y2="433.00" stroke="#ff0000" stroke-width="5.5" stroke-linecap="butt"/>
<circle cx="1497.70" cy="406.30" r="15.6" fill="#ff0000"/>
<line x1="1666.70" y1="467.50" x2="1666.70" y2="504.10" stroke="#ff0000" stroke-width="5.5" stroke-linecap="butt"/>
<circle cx="1666.70" cy="485.80" r="15.6" fill="#ff0000"/>
<line x1="1835.70" y1="495.70" x2="1835.70" y2="532.30" stroke="#ff0000" stroke-width="5.5" stroke-linecap="butt"/>
<circle cx="1835.70" cy="514.00" r="15.6" fill="#ff0000"/>
<line x1="2004.70" y1="520.20" x2="2004.70" y2="556.80" stroke="#ff0000" stroke-width="5.5" stroke-linecap="butt"/>
<circle cx="2004.70" cy="538.50" r="15.6" fill="#ff0000"/>
<polygon points="1328.70,579.00 1347.20,610.00 1310.20,610.00" fill="#0000ff"/>
<polygon points="1497.70,612.20 1516.20,643.20 1479.20,643.20" fill="#0000ff"/>
<polygon points="1666.70,631.00 1685.20,662.00 1648.20,662.00" fill="#0000ff"/>
<polygon points="1835.70,680.70 1854.20,711.70 1817.20,711.70" fill="#0000ff"/>
<polygon points="2004.70,730.00 2023.20,761.00 1986.20,761.00" fill="#0000ff"/>
<polygon points="1310.20,586.60 1347.20,586.60 1328.70,617.60" fill="#ff00ff"/>
<polygon points="1479.20,606.40 1516.20,606.40 1497.70,637.40" fill="#ff00ff"/>
<polygon points="1648.20,630.40 1685.20,630.40 1666.70,661.40" fill="#ff00ff"/>
<polygon points="1817.20,667.90 1854.20,667.90 1835.70,698.90" fill="#ff00ff"/>
<polygon points="1986.20,715.00 2023.20,715.00 2004.70,746.00" fill="#ff00ff"/>
<line x1="1328.70" y1="548.20" x2="1328.70" y2="632.80" stroke="#000000" stroke-width="5.5" stroke-linecap="butt"/>
<line x1="1497.70" y1="583.00" x2="1497.70" y2="640.00" stroke="#000000" stroke-width="5.5" stroke-linecap="butt"/>
<line x1="1666.70" y1="622.80" x2="1666.70" y2="652.80" stroke="#000000" stroke-width="5.5" stroke-linecap="butt"/>
<line x1="1835.70" y1="698.00" x2="1835.70" y2="728.00" stroke="#000000" stroke-width="5.5" stroke-linecap="butt"/>
<line x1="2004.70" y1="745.40" x2="2004.70" y2="775.40" stroke="#000000" stroke-width="5.5" stroke-linecap="butt"/>
<line x1="1328.70" y1="568.00" x2="1328.70" y2="621.00" stroke="#0000ff" stroke-width="5.5" stroke-linecap="butt"/>
<line x1="1497.70" y1="601.20" x2="1497.70" y2="654.20" stroke="#0000ff" stroke-width="5.5" stroke-linecap="butt"/>
<line x1="1666.70" y1="620.00" x2="1666.70" y2="673.00" stroke="#0000ff" stroke-width="5.5" stroke-linecap="butt"/>
<line x1="1835.70" y1="669.70" x2="1835.70" y2="722.70" stroke="#0000ff" stroke-width="5.5" stroke-linecap="butt"/>
<line x1="2004.70" y1="719.00" x2="2004.70" y2="772.00" stroke="#0000ff" stroke-width="5.5" stroke-linecap="butt"/>
<line x1="1328.70" y1="574.60" x2="1328.70" y2="623.60" stroke="#ff00ff" stroke-width="5.5" stroke-linecap="butt"/>
<line x1="1497.70" y1="594.40" x2="1497.70" y2="643.40" stroke="#ff00ff" stroke-width="5.5" stroke-linecap="butt"/>
<line x1="1666.70" y1="618.40" x2="1666.70" y2="667.40" stroke="#ff00ff" stroke-width="5.5" stroke-linecap="butt"/>
<line x1="1835.70" y1="655.90" x2="1835.70" y2="704.90" stroke="#ff00ff" stroke-width="5.5" stroke-linecap="butt"/>
<line x1="2004.70" y1="703.00" x2="2004.70" y2="752.00" stroke="#ff00ff" stroke-width="5.5" stroke-linecap="butt"/>
<rect x="1326.3" y="595.1" width="4.8" height="5.4" fill="#0000ff"/>
<rect x="1495.3" y="614.9" width="4.8" height="5.4" fill="#0000ff"/>
<rect x="1664.3" y="638.9" width="4.8" height="5.4" fill="#0000ff"/>
<rect x="1833.3" y="676.4" width="4.8" height="5.4" fill="#0000ff"/>
<rect x="2002.3" y="723.5" width="4.8" height="5.4" fill="#0000ff"/>
<line x1="1241.70" y1="552.35" x2="2090.70" y2="772.19" stroke="#000000" stroke-width="7.0" stroke-linecap="butt"/>
<line x1="1241.70" y1="324.83" x2="2090.70" y2="585.46" stroke="#ff0000" stroke-width="8.3" stroke-linecap="butt"/>
<line x1="1241.70" y1="562.12" x2="2090.70" y2="724.59" stroke="#0000ff" stroke-width="8.5" stroke-linecap="butt"/>
<line x1="1241.70" y1="573.14" x2="2090.70" y2="729.18" stroke="#ff00ff" stroke-width="8.7" stroke-linecap="butt"/>
<rect x="1315.23" y="1625.00" width="26.4" height="26.4" fill="#000000"/>
<rect x="1484.29" y="1647.80" width="26.4" height="26.4" fill="#000000"/>
<rect x="1653.35" y="1684.80" width="26.4" height="26.4" fill="#000000"/>
<rect x="1822.41" y="1750.80" width="26.4" height="26.4" fill="#000000"/>
<rect x="1991.47" y="1797.80" width="26.4" height="26.4" fill="#000000"/>
<line x1="1328.43" y1="1314.90" x2="1328.43" y2="1428.10" stroke="#ff0000" stroke-width="5.5" stroke-linecap="butt"/>
<circle cx="1328.43" cy="1370.70" r="15.6" fill="#ff0000"/>
<line x1="1497.49" y1="1396.30" x2="1497.49" y2="1483.00" stroke="#ff0000" stroke-width="5.5" stroke-linecap="butt"/>
<circle cx="1497.49" cy="1438.70" r="15.6" fill="#ff0000"/>
<line x1="1666.55" y1="1500.70" x2="1666.55" y2="1537.30" stroke="#ff0000" stroke-width="5.5" stroke-linecap="butt"/>
<circle cx="1666.55" cy="1519.00" r="15.6" fill="#ff0000"/>
<line x1="1835.61" y1="1530.10" x2="1835.61" y2="1566.70" stroke="#ff0000" stroke-width="5.5" stroke-linecap="butt"/>
<circle cx="1835.61" cy="1548.40" r="15.6" fill="#ff0000"/>
<line x1="2004.67" y1="1565.20" x2="2004.67" y2="1601.80" stroke="#ff0000" stroke-width="5.5" stroke-linecap="butt"/>
<circle cx="2004.67" cy="1583.50" r="15.6" fill="#ff0000"/>
<polygon points="1328.43,1629.50 1346.93,1660.50 1309.93,1660.50" fill="#0000ff"/>
<polygon points="1497.49,1658.00 1515.99,1689.00 1478.99,1689.00" fill="#0000ff"/>
<polygon points="1666.55,1680.00 1685.05,1711.00 1648.05,1711.00" fill="#0000ff"/>
<polygon points="1835.61,1728.00 1854.11,1759.00 1817.11,1759.00" fill="#0000ff"/>
<polygon points="2004.67,1779.00 2023.17,1810.00 1986.17,1810.00" fill="#0000ff"/>
<polygon points="1309.93,1636.20 1346.93,1636.20 1328.43,1667.20" fill="#ff00ff"/>
<polygon points="1478.99,1653.50 1515.99,1653.50 1497.49,1684.50" fill="#ff00ff"/>
<polygon points="1648.05,1679.50 1685.05,1679.50 1666.55,1710.50" fill="#ff00ff"/>
<polygon points="1817.11,1717.40 1854.11,1717.40 1835.61,1748.40" fill="#ff00ff"/>
<polygon points="1986.17,1765.30 2023.17,1765.30 2004.67,1796.30" fill="#ff00ff"/>
<line x1="1328.43" y1="1583.60" x2="1328.43" y2="1692.70" stroke="#000000" stroke-width="5.5" stroke-linecap="butt"/>
<line x1="1497.49" y1="1610.20" x2="1497.49" y2="1711.80" stroke="#000000" stroke-width="5.5" stroke-linecap="butt"/>
<line x1="1666.55" y1="1662.00" x2="1666.55" y2="1716.00" stroke="#000000" stroke-width="5.5" stroke-linecap="butt"/>
<line x1="1835.61" y1="1749.00" x2="1835.61" y2="1779.00" stroke="#000000" stroke-width="5.5" stroke-linecap="butt"/>
<line x1="2004.67" y1="1796.00" x2="2004.67" y2="1826.00" stroke="#000000" stroke-width="5.5" stroke-linecap="butt"/>
<line x1="1328.43" y1="1618.50" x2="1328.43" y2="1671.50" stroke="#0000ff" stroke-width="5.5" stroke-linecap="butt"/>
<line x1="1497.49" y1="1647.00" x2="1497.49" y2="1700.00" stroke="#0000ff" stroke-width="5.5" stroke-linecap="butt"/>
<line x1="1666.55" y1="1669.00" x2="1666.55" y2="1722.00" stroke="#0000ff" stroke-width="5.5" stroke-linecap="butt"/>
<line x1="1835.61" y1="1717.00" x2="1835.61" y2="1770.00" stroke="#0000ff" stroke-width="5.5" stroke-linecap="butt"/>
<line x1="2004.67" y1="1768.00" x2="2004.67" y2="1821.00" stroke="#0000ff" stroke-width="5.5" stroke-linecap="butt"/>
<line x1="1328.43" y1="1624.20" x2="1328.43" y2="1673.20" stroke="#ff00ff" stroke-width="5.5" stroke-linecap="butt"/>
<line x1="1497.49" y1="1641.50" x2="1497.49" y2="1690.50" stroke="#ff00ff" stroke-width="5.5" stroke-linecap="butt"/>
<line x1="1666.55" y1="1667.50" x2="1666.55" y2="1716.50" stroke="#ff00ff" stroke-width="5.5" stroke-linecap="butt"/>
<line x1="1835.61" y1="1705.40" x2="1835.61" y2="1754.40" stroke="#ff00ff" stroke-width="5.5" stroke-linecap="butt"/>
<line x1="2004.67" y1="1753.30" x2="2004.67" y2="1802.30" stroke="#ff00ff" stroke-width="5.5" stroke-linecap="butt"/>
<rect x="1326.0" y="1644.7" width="4.8" height="5.4" fill="#0000ff"/>
<rect x="1495.1" y="1662.0" width="4.8" height="5.4" fill="#0000ff"/>
<rect x="1664.1" y="1688.0" width="4.8" height="5.4" fill="#0000ff"/>
<rect x="1833.2" y="1725.9" width="4.8" height="5.4" fill="#0000ff"/>
<rect x="2002.3" y="1773.8" width="4.8" height="5.4" fill="#0000ff"/>
<line x1="1241.40" y1="1601.35" x2="2090.70" y2="1821.39" stroke="#000000" stroke-width="7.0" stroke-linecap="butt"/>
<line x1="1241.40" y1="1358.82" x2="2090.70" y2="1625.47" stroke="#ff0000" stroke-width="8.3" stroke-linecap="butt"/>
<line x1="1241.40" y1="1626.97" x2="2090.70" y2="1807.02" stroke="#0000ff" stroke-width="8.5" stroke-linecap="butt"/>
<line x1="1241.40" y1="1619.93" x2="2090.70" y2="1778.28" stroke="#ff00ff" stroke-width="8.7" stroke-linecap="butt"/>
<rect x="231.65" y="776.95" width="27.5" height="27.5" fill="#000000"/>
<circle cx="245.90" cy="844.90" r="15.8" fill="#ff0000"/>
<rect x="235.95" y="1826.05" width="27.5" height="27.5" fill="#000000"/>
<circle cx="249.20" cy="1893.90" r="15.8" fill="#ff0000"/>
<rect x="2323.05" y="776.75" width="27.5" height="27.5" fill="#000000"/>
<circle cx="2336.80" cy="848.30" r="15.8" fill="#ff0000"/>
<rect x="2326.75" y="1822.65" width="27.5" height="27.5" fill="#000000"/>
<circle cx="2340.40" cy="1894.00" r="15.8" fill="#ff0000"/>
<rect x="1295.45" y="665.85" width="27.5" height="27.5" fill="#000000"/>
<circle cx="1309.60" cy="735.40" r="15.7" fill="#ff0000"/>
<polygon points="1308.90,771.40 1328.00,802.20 1289.80,802.20" fill="#0000ff"/>
<polygon points="1289.80,838.60 1328.00,838.60 1308.90,869.40" fill="#ff00ff"/>
<path d="M1579.5,775.5 Q1565.5,793.5 1579.5,811.5" fill="none" stroke="#000" stroke-width="2.8"/>
<path d="M2033.4,775.5 Q2047.4,793.5 2033.4,811.5" fill="none" stroke="#000" stroke-width="2.8"/>
<path d="M1579.5,831.0 Q1565.5,849.0 1579.5,867.0" fill="none" stroke="#000" stroke-width="2.8"/>
<path d="M2059.5,831.0 Q2073.5,849.0 2059.5,867.0" fill="none" stroke="#000" stroke-width="2.8"/>
<rect x="1277.45" y="1714.85" width="27.5" height="27.5" fill="#000000"/>
<circle cx="1291.60" cy="1784.40" r="15.7" fill="#ff0000"/>
<polygon points="1290.90,1820.40 1310.00,1851.20 1271.80,1851.20" fill="#0000ff"/>
<polygon points="1271.80,1887.60 1310.00,1887.60 1290.90,1918.40" fill="#ff00ff"/>
<path d="M1561.5,1824.5 Q1547.5,1842.5 1561.5,1860.5" fill="none" stroke="#000" stroke-width="2.8"/>
<path d="M2015.4,1824.5 Q2029.4,1842.5 2015.4,1860.5" fill="none" stroke="#000" stroke-width="2.8"/>
<path d="M1561.5,1880.0 Q1547.5,1898.0 1561.5,1916.0" fill="none" stroke="#000" stroke-width="2.8"/>
<path d="M2041.5,1880.0 Q2055.5,1898.0 2041.5,1916.0" fill="none" stroke="#000" stroke-width="2.8"/>
<path d="M761.0,109.7 L768.0,105.2 L781.3,127.9" fill="none" stroke="#000" stroke-width="4.2" stroke-linejoin="miter"/>
<path d="M781.3,128.9 L796.8,70.5 L825.5,70.5" fill="none" stroke="#000" stroke-width="3.3" stroke-linejoin="miter"/>
<path d="M1809.9,109.7 L1816.9,105.2 L1830.2,127.9" fill="none" stroke="#000" stroke-width="4.2" stroke-linejoin="miter"/>
<path d="M1830.2,128.9 L1845.7,70.5 L1874.4,70.5" fill="none" stroke="#000" stroke-width="3.3" stroke-linejoin="miter"/>
<path d="M2836.0,107.5 L2843.0,103.0 L2856.3,125.7" fill="none" stroke="#000" stroke-width="4.2" stroke-linejoin="miter"/>
<path d="M2856.3,126.7 L2871.8,68.3 L2900.5,68.3" fill="none" stroke="#000" stroke-width="3.3" stroke-linejoin="miter"/>
<path d="M761.0,1156.0 L768.0,1151.5 L781.3,1174.2" fill="none" stroke="#000" stroke-width="4.2" stroke-linejoin="miter"/>
<path d="M781.3,1175.2 L796.8,1116.8 L825.5,1116.8" fill="none" stroke="#000" stroke-width="3.3" stroke-linejoin="miter"/>
<path d="M1808.6,1155.6 L1815.6,1151.1 L1828.9,1173.8" fill="none" stroke="#000" stroke-width="4.2" stroke-linejoin="miter"/>
<path d="M1828.9,1174.8 L1844.4,1116.4 L1873.1,1116.4" fill="none" stroke="#000" stroke-width="3.3" stroke-linejoin="miter"/>
<path d="M2836.0,1154.0 L2843.0,1149.5 L2856.3,1172.2" fill="none" stroke="#000" stroke-width="4.2" stroke-linejoin="miter"/>
<path d="M2856.3,1173.2 L2871.8,1114.8 L2900.5,1114.8" fill="none" stroke="#000" stroke-width="3.3" stroke-linejoin="miter"/>
<g transform="translate(79.9,516.0) rotate(-90)"><polyline points="26.0,-28.5 1.0,-17.8 26.0,-7.0" fill="none" stroke="#000" stroke-width="3.1"/><text x="24.5" y="0" font-family="Liberation Serif" font-style="italic" font-size="50" stroke="#000" stroke-width="0.7">p</text><text x="49.5" y="17.8" font-family="Liberation Serif" font-size="31" stroke="#000" stroke-width="0.6">T</text><polyline points="73.5,-28.5 98.5,-17.8 73.5,-7.0" fill="none" stroke="#000" stroke-width="3.1"/></g>
<g transform="translate(1125.5,516.0) rotate(-90)"><polyline points="26.0,-28.5 1.0,-17.8 26.0,-7.0" fill="none" stroke="#000" stroke-width="3.1"/><text x="24.5" y="0" font-family="Liberation Serif" font-style="italic" font-size="50" stroke="#000" stroke-width="0.7">p</text><text x="49.5" y="17.8" font-family="Liberation Serif" font-size="31" stroke="#000" stroke-width="0.6">T</text><polyline points="73.5,-28.5 98.5,-17.8 73.5,-7.0" fill="none" stroke="#000" stroke-width="3.1"/></g>
<g transform="translate(2172.5,516.0) rotate(-90)"><polyline points="26.0,-28.5 1.0,-17.8 26.0,-7.0" fill="none" stroke="#000" stroke-width="3.1"/><text x="24.5" y="0" font-family="Liberation Serif" font-style="italic" font-size="50" stroke="#000" stroke-width="0.7">p</text><text x="49.5" y="17.8" font-family="Liberation Serif" font-size="31" stroke="#000" stroke-width="0.6">T</text><polyline points="73.5,-28.5 98.5,-17.8 73.5,-7.0" fill="none" stroke="#000" stroke-width="3.1"/></g>
<g transform="translate(79.6,1597.0) rotate(-90)"><path d="M0,-24 L4,-27.5 L15.5,0.5" fill="none" stroke="#000" stroke-width="4.2"/><path d="M15.5,1.7 L23,-51.1" fill="none" stroke="#000" stroke-width="3.3"/><path d="M21.5,-51.1 L175.5,-51.1" fill="none" stroke="#000" stroke-width="5.8"/><polyline points="48.5,-28.8 22.3,-17.8 48.5,-6.8" fill="none" stroke="#000" stroke-width="3.1"/><text x="45.8" y="0" font-family="Liberation Serif" font-style="italic" font-size="50" stroke="#000" stroke-width="0.7">p</text><text x="75.0" y="-26.6" font-family="Liberation Serif" font-size="30.5" stroke="#000" stroke-width="0.6">2</text><text x="74.8" y="18.2" font-family="Liberation Serif" font-size="31" stroke="#000" stroke-width="0.6">T</text><polyline points="94.5,-28.8 120.6,-17.8 94.5,-6.8" fill="none" stroke="#000" stroke-width="3.1"/><path d="M122.5,0.8 L136.5,-36.5" fill="none" stroke="#000" stroke-width="3.1"/><text x="138.0" y="0" font-family="Liberation Serif" font-size="52.8" stroke="#000" stroke-width="0.7">2</text></g>
<g transform="translate(1125.0,1597.0) rotate(-90)"><path d="M0,-24 L4,-27.5 L15.5,0.5" fill="none" stroke="#000" stroke-width="4.2"/><path d="M15.5,1.7 L23,-51.1" fill="none" stroke="#000" stroke-width="3.3"/><path d="M21.5,-51.1 L175.5,-51.1" fill="none" stroke="#000" stroke-width="5.8"/><polyline points="48.5,-28.8 22.3,-17.8 48.5,-6.8" fill="none" stroke="#000" stroke-width="3.1"/><text x="45.8" y="0" font-family="Liberation Serif" font-style="italic" font-size="50" stroke="#000" stroke-width="0.7">p</text><text x="75.0" y="-26.6" font-family="Liberation Serif" font-size="30.5" stroke="#000" stroke-width="0.6">2</text><text x="74.8" y="18.2" font-family="Liberation Serif" font-size="31" stroke="#000" stroke-width="0.6">T</text><polyline points="94.5,-28.8 120.6,-17.8 94.5,-6.8" fill="none" stroke="#000" stroke-width="3.1"/><path d="M122.5,0.8 L136.5,-36.5" fill="none" stroke="#000" stroke-width="3.1"/><text x="138.0" y="0" font-family="Liberation Serif" font-size="52.8" stroke="#000" stroke-width="0.7">2</text></g>
<g transform="translate(2172.2,1597.0) rotate(-90)"><path d="M0,-24 L4,-27.5 L15.5,0.5" fill="none" stroke="#000" stroke-width="4.2"/><path d="M15.5,1.7 L23,-51.1" fill="none" stroke="#000" stroke-width="3.3"/><path d="M21.5,-51.1 L175.5,-51.1" fill="none" stroke="#000" stroke-width="5.8"/><polyline points="48.5,-28.8 22.3,-17.8 48.5,-6.8" fill="none" stroke="#000" stroke-width="3.1"/><text x="45.8" y="0" font-family="Liberation Serif" font-style="italic" font-size="50" stroke="#000" stroke-width="0.7">p</text><text x="75.0" y="-26.6" font-family="Liberation Serif" font-size="30.5" stroke="#000" stroke-width="0.6">2</text><text x="74.8" y="18.2" font-family="Liberation Serif" font-size="31" stroke="#000" stroke-width="0.6">T</text><polyline points="94.5,-28.8 120.6,-17.8 94.5,-6.8" fill="none" stroke="#000" stroke-width="3.1"/><path d="M122.5,0.8 L136.5,-36.5" fill="none" stroke="#000" stroke-width="3.1"/><text x="138.0" y="0" font-family="Liberation Serif" font-size="52.8" stroke="#000" stroke-width="0.7">2</text></g>
<text transform="translate(169.60,946.10) scale(1,1.03)" x="0" y="0" font-family="Liberation Sans" font-size="41.5" font-style="normal" fill="#000" stroke="#000" stroke-width="0.6" xml:space="preserve">2.0</text>
<text transform="translate(338.60,946.10) scale(1,1.03)" x="0" y="0" font-family="Liberation Sans" font-size="41.5" font-style="normal" fill="#000" stroke="#000" stroke-width="0.6" xml:space="preserve">2.5</text>
<text transform="translate(507.60,946.10) scale(1,1.03)" x="0" y="0" font-family="Liberation Sans" font-size="41.5" font-style="normal" fill="#000" stroke="#000" stroke-width="0.6" xml:space="preserve">3.0</text>
<text transform="translate(676.60,946.10) scale(1,1.03)" x="0" y="0" font-family="Liberation Sans" font-size="41.5" font-style="normal" fill="#000" stroke="#000" stroke-width="0.6" xml:space="preserve">3.5</text>
<text transform="translate(846.10,946.10) scale(1,1.03)" x="0" y="0" font-family="Liberation Sans" font-size="41.5" font-style="normal" fill="#000" stroke="#000" stroke-width="0.6" xml:space="preserve">4.0</text>
<text transform="translate(1015.10,946.10) scale(1,1.03)" x="0" y="0" font-family="Liberation Sans" font-size="41.5" font-style="normal" fill="#000" stroke="#000" stroke-width="0.6" xml:space="preserve">4.5</text>
<text transform="translate(116.20,56.20) scale(1,1.03)" x="0" y="0" font-family="Liberation Sans" font-size="41.5" font-style="normal" fill="#000" stroke="#000" stroke-width="0.6" xml:space="preserve">4.0</text>
<text transform="translate(116.20,225.18) scale(1,1.03)" x="0" y="0" font-family="Liberation Sans" font-size="41.5" font-style="normal" fill="#000" stroke="#000" stroke-width="0.6" xml:space="preserve">3.6</text>
<text transform="translate(116.20,394.16) scale(1,1.03)" x="0" y="0" font-family="Liberation Sans" font-size="41.5" font-style="normal" fill="#000" stroke="#000" stroke-width="0.6" xml:space="preserve">3.2</text>
<text transform="translate(116.20,563.14) scale(1,1.03)" x="0" y="0" font-family="Liberation Sans" font-size="41.5" font-style="normal" fill="#000" stroke="#000" stroke-width="0.6" xml:space="preserve">2.8</text>
<text transform="translate(116.20,732.12) scale(1,1.03)" x="0" y="0" font-family="Liberation Sans" font-size="41.5" font-style="normal" fill="#000" stroke="#000" stroke-width="0.6" xml:space="preserve">2.4</text>
<text transform="translate(116.20,901.10) scale(1,1.03)" x="0" y="0" font-family="Liberation Sans" font-size="41.5" font-style="normal" fill="#000" stroke="#000" stroke-width="0.6" xml:space="preserve">2.0</text>
<text transform="translate(1215.20,946.10) scale(1,1.03)" x="0" y="0" font-family="Liberation Sans" font-size="41.5" font-style="normal" fill="#000" stroke="#000" stroke-width="0.6" xml:space="preserve">2.0</text>
<text transform="translate(1384.20,946.10) scale(1,1.03)" x="0" y="0" font-family="Liberation Sans" font-size="41.5" font-style="normal" fill="#000" stroke="#000" stroke-width="0.6" xml:space="preserve">2.5</text>
<text transform="translate(1553.20,946.10) scale(1,1.03)" x="0" y="0" font-family="Liberation Sans" font-size="41.5" font-style="normal" fill="#000" stroke="#000" stroke-width="0.6" xml:space="preserve">3.0</text>
<text transform="translate(1722.20,946.10) scale(1,1.03)" x="0" y="0" font-family="Liberation Sans" font-size="41.5" font-style="normal" fill="#000" stroke="#000" stroke-width="0.6" xml:space="preserve">3.5</text>
<text transform="translate(1891.70,946.10) scale(1,1.03)" x="0" y="0" font-family="Liberation Sans" font-size="41.5" font-style="normal" fill="#000" stroke="#000" stroke-width="0.6" xml:space="preserve">4.0</text>
<text transform="translate(2060.70,946.10) scale(1,1.03)" x="0" y="0" font-family="Liberation Sans" font-size="41.5" font-style="normal" fill="#000" stroke="#000" stroke-width="0.6" xml:space="preserve">4.5</text>
<text transform="translate(1161.80,56.20) scale(1,1.03)" x="0" y="0" font-family="Liberation Sans" font-size="41.5" font-style="normal" fill="#000" stroke="#000" stroke-width="0.6" xml:space="preserve">4.0</text>
<text transform="translate(1161.80,267.43) scale(1,1.03)" x="0" y="0" font-family="Liberation Sans" font-size="41.5" font-style="normal" fill="#000" stroke="#000" stroke-width="0.6" xml:space="preserve">3.5</text>
<text transform="translate(1161.80,478.65) scale(1,1.03)" x="0" y="0" font-family="Liberation Sans" font-size="41.5" font-style="normal" fill="#000" stroke="#000" stroke-width="0.6" xml:space="preserve">3.0</text>
<text transform="translate(1161.80,689.87) scale(1,1.03)" x="0" y="0" font-family="Liberation Sans" font-size="41.5" font-style="normal" fill="#000" stroke="#000" stroke-width="0.6" xml:space="preserve">2.5</text>
<text transform="translate(1161.80,901.10) scale(1,1.03)" x="0" y="0" font-family="Liberation Sans" font-size="41.5" font-style="normal" fill="#000" stroke="#000" stroke-width="0.6" xml:space="preserve">2.0</text>
<text transform="translate(2262.20,946.20) scale(1,1.03)" x="0" y="0" font-family="Liberation Sans" font-size="41.5" font-style="normal" fill="#000" stroke="#000" stroke-width="0.6" xml:space="preserve">2.0</text>
<text transform="translate(2431.22,946.20) scale(1,1.03)" x="0" y="0" font-family="Liberation Sans" font-size="41.5" font-style="normal" fill="#000" stroke="#000" stroke-width="0.6" xml:space="preserve">2.5</text>
<text transform="translate(2600.24,946.20) scale(1,1.03)" x="0" y="0" font-family="Liberation Sans" font-size="41.5" font-style="normal" fill="#000" stroke="#000" stroke-width="0.6" xml:space="preserve">3.0</text>
<text transform="translate(2769.26,946.20) scale(1,1.03)" x="0" y="0" font-family="Liberation Sans" font-size="41.5" font-style="normal" fill="#000" stroke="#000" stroke-width="0.6" xml:space="preserve">3.5</text>
<text transform="translate(2938.78,946.20) scale(1,1.03)" x="0" y="0" font-family="Liberation Sans" font-size="41.5" font-style="normal" fill="#000" stroke="#000" stroke-width="0.6" xml:space="preserve">4.0</text>
<text transform="translate(3107.80,946.20) scale(1,1.03)" x="0" y="0" font-family="Liberation Sans" font-size="41.5" font-style="normal" fill="#000" stroke="#000" stroke-width="0.6" xml:space="preserve">4.5</text>
<text transform="translate(2208.80,56.20) scale(1,1.03)" x="0" y="0" font-family="Liberation Sans" font-size="41.5" font-style="normal" fill="#000" stroke="#000" stroke-width="0.6" xml:space="preserve">4.0</text>
<text transform="translate(2208.80,267.45) scale(1,1.03)" x="0" y="0" font-family="Liberation Sans" font-size="41.5" font-style="normal" fill="#000" stroke="#000" stroke-width="0.6" xml:space="preserve">3.5</text>
<text transform="translate(2208.80,478.70) scale(1,1.03)" x="0" y="0" font-family="Liberation Sans" font-size="41.5" font-style="normal" fill="#000" stroke="#000" stroke-width="0.6" xml:space="preserve">3.0</text>
<text transform="translate(2208.80,689.95) scale(1,1.03)" x="0" y="0" font-family="Liberation Sans" font-size="41.5" font-style="normal" fill="#000" stroke="#000" stroke-width="0.6" xml:space="preserve">2.5</text>
<text transform="translate(2208.80,901.20) scale(1,1.03)" x="0" y="0" font-family="Liberation Sans" font-size="41.5" font-style="normal" fill="#000" stroke="#000" stroke-width="0.6" xml:space="preserve">2.0</text>
<text transform="translate(169.50,1992.10) scale(1,1.03)" x="0" y="0" font-family="Liberation Sans" font-size="41.5" font-style="normal" fill="#000" stroke="#000" stroke-width="0.6" xml:space="preserve">2.0</text>
<text transform="translate(338.46,1992.10) scale(1,1.03)" x="0" y="0" font-family="Liberation Sans" font-size="41.5" font-style="normal" fill="#000" stroke="#000" stroke-width="0.6" xml:space="preserve">2.5</text>
<text transform="translate(507.42,1992.10) scale(1,1.03)" x="0" y="0" font-family="Liberation Sans" font-size="41.5" font-style="normal" fill="#000" stroke="#000" stroke-width="0.6" xml:space="preserve">3.0</text>
<text transform="translate(676.38,1992.10) scale(1,1.03)" x="0" y="0" font-family="Liberation Sans" font-size="41.5" font-style="normal" fill="#000" stroke="#000" stroke-width="0.6" xml:space="preserve">3.5</text>
<text transform="translate(845.84,1992.10) scale(1,1.03)" x="0" y="0" font-family="Liberation Sans" font-size="41.5" font-style="normal" fill="#000" stroke="#000" stroke-width="0.6" xml:space="preserve">4.0</text>
<text transform="translate(1014.80,1992.10) scale(1,1.03)" x="0" y="0" font-family="Liberation Sans" font-size="41.5" font-style="normal" fill="#000" stroke="#000" stroke-width="0.6" xml:space="preserve">4.5</text>
<text transform="translate(116.10,1151.34) scale(1,1.03)" x="0" y="0" font-family="Liberation Sans" font-size="41.5" font-style="normal" fill="#000" stroke="#000" stroke-width="0.6" xml:space="preserve">3.3</text>
<text transform="translate(116.10,1300.54) scale(1,1.03)" x="0" y="0" font-family="Liberation Sans" font-size="41.5" font-style="normal" fill="#000" stroke="#000" stroke-width="0.6" xml:space="preserve">3.0</text>
<text transform="translate(116.10,1449.75) scale(1,1.03)" x="0" y="0" font-family="Liberation Sans" font-size="41.5" font-style="normal" fill="#000" stroke="#000" stroke-width="0.6" xml:space="preserve">2.7</text>
<text transform="translate(116.10,1598.95) scale(1,1.03)" x="0" y="0" font-family="Liberation Sans" font-size="41.5" font-style="normal" fill="#000" stroke="#000" stroke-width="0.6" xml:space="preserve">2.4</text>
<text transform="translate(116.10,1748.16) scale(1,1.03)" x="0" y="0" font-family="Liberation Sans" font-size="41.5" font-style="normal" fill="#000" stroke="#000" stroke-width="0.6" xml:space="preserve">2.1</text>
<text transform="translate(116.10,1897.36) scale(1,1.03)" x="0" y="0" font-family="Liberation Sans" font-size="41.5" font-style="normal" fill="#000" stroke="#000" stroke-width="0.6" xml:space="preserve">1.8</text>
<text transform="translate(1214.90,1992.10) scale(1,1.03)" x="0" y="0" font-family="Liberation Sans" font-size="41.5" font-style="normal" fill="#000" stroke="#000" stroke-width="0.6" xml:space="preserve">2.0</text>
<text transform="translate(1383.96,1992.10) scale(1,1.03)" x="0" y="0" font-family="Liberation Sans" font-size="41.5" font-style="normal" fill="#000" stroke="#000" stroke-width="0.6" xml:space="preserve">2.5</text>
<text transform="translate(1553.02,1992.10) scale(1,1.03)" x="0" y="0" font-family="Liberation Sans" font-size="41.5" font-style="normal" fill="#000" stroke="#000" stroke-width="0.6" xml:space="preserve">3.0</text>
<text transform="translate(1722.08,1992.10) scale(1,1.03)" x="0" y="0" font-family="Liberation Sans" font-size="41.5" font-style="normal" fill="#000" stroke="#000" stroke-width="0.6" xml:space="preserve">3.5</text>
<text transform="translate(1891.64,1992.10) scale(1,1.03)" x="0" y="0" font-family="Liberation Sans" font-size="41.5" font-style="normal" fill="#000" stroke="#000" stroke-width="0.6" xml:space="preserve">4.0</text>
<text transform="translate(2060.70,1992.10) scale(1,1.03)" x="0" y="0" font-family="Liberation Sans" font-size="41.5" font-style="normal" fill="#000" stroke="#000" stroke-width="0.6" xml:space="preserve">4.5</text>
<text transform="translate(1161.50,1151.43) scale(1,1.03)" x="0" y="0" font-family="Liberation Sans" font-size="41.5" font-style="normal" fill="#000" stroke="#000" stroke-width="0.6" xml:space="preserve">3.3</text>
<text transform="translate(1161.50,1300.62) scale(1,1.03)" x="0" y="0" font-family="Liberation Sans" font-size="41.5" font-style="normal" fill="#000" stroke="#000" stroke-width="0.6" xml:space="preserve">3.0</text>
<text transform="translate(1161.50,1449.81) scale(1,1.03)" x="0" y="0" font-family="Liberation Sans" font-size="41.5" font-style="normal" fill="#000" stroke="#000" stroke-width="0.6" xml:space="preserve">2.7</text>
<text transform="translate(1161.50,1598.99) scale(1,1.03)" x="0" y="0" font-family="Liberation Sans" font-size="41.5" font-style="normal" fill="#000" stroke="#000" stroke-width="0.6" xml:space="preserve">2.4</text>
<text transform="translate(1161.50,1748.18) scale(1,1.03)" x="0" y="0" font-family="Liberation Sans" font-size="41.5" font-style="normal" fill="#000" stroke="#000" stroke-width="0.6" xml:space="preserve">2.1</text>
<text transform="translate(1161.50,1897.37) scale(1,1.03)" x="0" y="0" font-family="Liberation Sans" font-size="41.5" font-style="normal" fill="#000" stroke="#000" stroke-width="0.6" xml:space="preserve">1.8</text>
<text transform="translate(2262.10,1992.10) scale(1,1.03)" x="0" y="0" font-family="Liberation Sans" font-size="41.5" font-style="normal" fill="#000" stroke="#000" stroke-width="0.6" xml:space="preserve">2.0</text>
<text transform="translate(2431.14,1992.10) scale(1,1.03)" x="0" y="0" font-family="Liberation Sans" font-size="41.5" font-style="normal" fill="#000" stroke="#000" stroke-width="0.6" xml:space="preserve">2.5</text>
<text transform="translate(2600.18,1992.10) scale(1,1.03)" x="0" y="0" font-family="Liberation Sans" font-size="41.5" font-style="normal" fill="#000" stroke="#000" stroke-width="0.6" xml:space="preserve">3.0</text>
<text transform="translate(2769.22,1992.10) scale(1,1.03)" x="0" y="0" font-family="Liberation Sans" font-size="41.5" font-style="normal" fill="#000" stroke="#000" stroke-width="0.6" xml:space="preserve">3.5</text>
<text transform="translate(2938.76,1992.10) scale(1,1.03)" x="0" y="0" font-family="Liberation Sans" font-size="41.5" font-style="normal" fill="#000" stroke="#000" stroke-width="0.6" xml:space="preserve">4.0</text>
<text transform="translate(3107.80,1992.10) scale(1,1.03)" x="0" y="0" font-family="Liberation Sans" font-size="41.5" font-style="normal" fill="#000" stroke="#000" stroke-width="0.6" xml:space="preserve">4.5</text>
<text transform="translate(2208.70,1151.34) scale(1,1.03)" x="0" y="0" font-family="Liberation Sans" font-size="41.5" font-style="normal" fill="#000" stroke="#000" stroke-width="0.6" xml:space="preserve">3.3</text>
<text transform="translate(2208.70,1300.54) scale(1,1.03)" x="0" y="0" font-family="Liberation Sans" font-size="41.5" font-style="normal" fill="#000" stroke="#000" stroke-width="0.6" xml:space="preserve">3.0</text>
<text transform="translate(2208.70,1449.75) scale(1,1.03)" x="0" y="0" font-family="Liberation Sans" font-size="41.5" font-style="normal" fill="#000" stroke="#000" stroke-width="0.6" xml:space="preserve">2.7</text>
<text transform="translate(2208.70,1598.95) scale(1,1.03)" x="0" y="0" font-family="Liberation Sans" font-size="41.5" font-style="normal" fill="#000" stroke="#000" stroke-width="0.6" xml:space="preserve">2.4</text>
<text transform="translate(2208.70,1748.16) scale(1,1.03)" x="0" y="0" font-family="Liberation Sans" font-size="41.5" font-style="normal" fill="#000" stroke="#000" stroke-width="0.6" xml:space="preserve">2.1</text>
<text transform="translate(2208.70,1897.36) scale(1,1.03)" x="0" y="0" font-family="Liberation Sans" font-size="41.5" font-style="normal" fill="#000" stroke="#000" stroke-width="0.6" xml:space="preserve">1.8</text>
<text x="302.73" y="804.60" textLength="126.25" lengthAdjust="spacingAndGlyphs" font-family="Liberation Serif" font-size="40.0" font-style="normal" fill="#000" stroke="#000" stroke-width="0.8" xml:space="preserve">Prompt</text>
<text x="449.15" y="804.60" textLength="56.56" lengthAdjust="spacingAndGlyphs" font-family="Liberation Serif" font-size="40.0" font-style="italic" fill="#000" stroke="#000" stroke-width="0.45" xml:space="preserve">J/ψ</text>
<text x="302.33" y="860.00" textLength="175.64" lengthAdjust="spacingAndGlyphs" font-family="Liberation Serif" font-size="40.0" font-style="normal" fill="#000" stroke="#000" stroke-width="0.8" xml:space="preserve">Noprompt</text>
<text x="487.95" y="860.00" textLength="56.56" lengthAdjust="spacingAndGlyphs" font-family="Liberation Serif" font-size="40.0" font-style="italic" fill="#000" stroke="#000" stroke-width="0.45" xml:space="preserve">J/ψ</text>
<text x="307.93" y="1852.80" textLength="125.75" lengthAdjust="spacingAndGlyphs" font-family="Liberation Serif" font-size="40.0" font-style="normal" fill="#000" stroke="#000" stroke-width="0.8" xml:space="preserve">Prompt</text>
<text x="451.39" y="1852.80" textLength="59.50" lengthAdjust="spacingAndGlyphs" font-family="Liberation Serif" font-size="40.0" font-style="italic" fill="#000" stroke="#000" stroke-width="0.45" xml:space="preserve">J/ψ</text>
<text x="307.93" y="1907.00" textLength="175.13" lengthAdjust="spacingAndGlyphs" font-family="Liberation Serif" font-size="40.0" font-style="normal" fill="#000" stroke="#000" stroke-width="0.8" xml:space="preserve">Noprompt</text>
<text x="491.06" y="1907.00" textLength="55.85" lengthAdjust="spacingAndGlyphs" font-family="Liberation Serif" font-size="40.0" font-style="italic" fill="#000" stroke="#000" stroke-width="0.45" xml:space="preserve">J/ψ</text>
<text x="2396.05" y="805.00" textLength="123.64" lengthAdjust="spacingAndGlyphs" font-family="Liberation Serif" font-size="40.0" font-style="normal" fill="#000" stroke="#000" stroke-width="0.8" xml:space="preserve">Prompt</text>
<text x="2528.42" y="805.00" textLength="58.08" lengthAdjust="spacingAndGlyphs" font-family="Liberation Serif" font-size="40.0" font-style="italic" fill="#000" stroke="#000" stroke-width="0.45" xml:space="preserve">J/ψ</text>
<text x="2392.85" y="861.80" textLength="56.56" lengthAdjust="spacingAndGlyphs" font-family="Liberation Serif" font-size="40.0" font-style="italic" fill="#000" stroke="#000" stroke-width="0.45" xml:space="preserve">J/ψ</text>
<text x="2470.91" y="861.80" textLength="117.82" lengthAdjust="spacingAndGlyphs" font-family="Liberation Serif" font-size="40.0" font-style="normal" fill="#000" stroke="#000" stroke-width="0.8" xml:space="preserve">from b</text>
<text x="2397.74" y="1850.30" textLength="124.44" lengthAdjust="spacingAndGlyphs" font-family="Liberation Serif" font-size="40.0" font-style="normal" fill="#000" stroke="#000" stroke-width="0.8" xml:space="preserve">Prompt</text>
<text x="2533.24" y="1850.30" textLength="57.16" lengthAdjust="spacingAndGlyphs" font-family="Liberation Serif" font-size="40.0" font-style="italic" fill="#000" stroke="#000" stroke-width="0.45" xml:space="preserve">J/ψ</text>
<text x="2395.13" y="1908.40" textLength="57.57" lengthAdjust="spacingAndGlyphs" font-family="Liberation Serif" font-size="40.0" font-style="italic" fill="#000" stroke="#000" stroke-width="0.45" xml:space="preserve">J/ψ</text>
<text x="2476.84" y="1908.40" textLength="114.64" lengthAdjust="spacingAndGlyphs" font-family="Liberation Serif" font-size="40.0" font-style="normal" fill="#000" stroke="#000" stroke-width="0.8" xml:space="preserve">from b</text>
<text x="1365.58" y="690.50" textLength="112.87" lengthAdjust="spacingAndGlyphs" font-family="Liberation Serif" font-size="37.5" font-style="normal" fill="#000" stroke="#000" stroke-width="0.8" xml:space="preserve">Prompt</text>
<text x="1486.23" y="690.50" textLength="63.75" lengthAdjust="spacingAndGlyphs" font-family="Liberation Serif" font-size="37.5" font-style="italic" fill="#000" stroke="#000" stroke-width="0.45" xml:space="preserve">J/ψ</text>
<text x="1362.08" y="747.60" textLength="61.64" lengthAdjust="spacingAndGlyphs" font-family="Liberation Serif" font-size="37.5" font-style="italic" fill="#000" stroke="#000" stroke-width="0.45" xml:space="preserve">J/ψ</text>
<text x="1432.89" y="747.60" textLength="106.80" lengthAdjust="spacingAndGlyphs" font-family="Liberation Serif" font-size="37.5" font-style="normal" fill="#000" stroke="#000" stroke-width="0.8" xml:space="preserve">from b</text>
<text x="1365.58" y="805.00" textLength="112.87" lengthAdjust="spacingAndGlyphs" font-family="Liberation Serif" font-size="37.5" font-style="normal" fill="#000" stroke="#000" stroke-width="0.8" xml:space="preserve">Prompt</text>
<text x="1486.23" y="805.00" textLength="63.75" lengthAdjust="spacingAndGlyphs" font-family="Liberation Serif" font-size="37.5" font-style="italic" fill="#000" stroke="#000" stroke-width="0.45" xml:space="preserve">J/ψ</text>
<text x="1588.55" y="805.00" textLength="438.08" lengthAdjust="spacingAndGlyphs" font-family="Liberation Serif" font-size="37.5" font-style="normal" fill="#000" stroke="#000" stroke-width="0.8" xml:space="preserve">fully transversely polarised</text>
<text x="1365.58" y="860.50" textLength="112.87" lengthAdjust="spacingAndGlyphs" font-family="Liberation Serif" font-size="37.5" font-style="normal" fill="#000" stroke="#000" stroke-width="0.8" xml:space="preserve">Prompt</text>
<text x="1486.23" y="860.50" textLength="63.75" lengthAdjust="spacingAndGlyphs" font-family="Liberation Serif" font-size="37.5" font-style="italic" fill="#000" stroke="#000" stroke-width="0.45" xml:space="preserve">J/ψ</text>
<text x="1588.58" y="860.50" textLength="464.40" lengthAdjust="spacingAndGlyphs" font-family="Liberation Serif" font-size="37.5" font-style="normal" fill="#000" stroke="#000" stroke-width="0.8" xml:space="preserve">fully longitudinally polarised</text>
<text x="1347.58" y="1739.50" textLength="112.87" lengthAdjust="spacingAndGlyphs" font-family="Liberation Serif" font-size="37.5" font-style="normal" fill="#000" stroke="#000" stroke-width="0.8" xml:space="preserve">Prompt</text>
<text x="1468.23" y="1739.50" textLength="63.75" lengthAdjust="spacingAndGlyphs" font-family="Liberation Serif" font-size="37.5" font-style="italic" fill="#000" stroke="#000" stroke-width="0.45" xml:space="preserve">J/ψ</text>
<text x="1344.08" y="1796.60" textLength="61.64" lengthAdjust="spacingAndGlyphs" font-family="Liberation Serif" font-size="37.5" font-style="italic" fill="#000" stroke="#000" stroke-width="0.45" xml:space="preserve">J/ψ</text>
<text x="1414.89" y="1796.60" textLength="106.80" lengthAdjust="spacingAndGlyphs" font-family="Liberation Serif" font-size="37.5" font-style="normal" fill="#000" stroke="#000" stroke-width="0.8" xml:space="preserve">from b</text>
<text x="1347.58" y="1854.00" textLength="112.87" lengthAdjust="spacingAndGlyphs" font-family="Liberation Serif" font-size="37.5" font-style="normal" fill="#000" stroke="#000" stroke-width="0.8" xml:space="preserve">Prompt</text>
<text x="1468.23" y="1854.00" textLength="63.75" lengthAdjust="spacingAndGlyphs" font-family="Liberation Serif" font-size="37.5" font-style="italic" fill="#000" stroke="#000" stroke-width="0.45" xml:space="preserve">J/ψ</text>
<text x="1570.55" y="1854.00" textLength="438.08" lengthAdjust="spacingAndGlyphs" font-family="Liberation Serif" font-size="37.5" font-style="normal" fill="#000" stroke="#000" stroke-width="0.8" xml:space="preserve">fully transversely polarised</text>
<text x="1347.58" y="1909.50" textLength="112.87" lengthAdjust="spacingAndGlyphs" font-family="Liberation Serif" font-size="37.5" font-style="normal" fill="#000" stroke="#000" stroke-width="0.8" xml:space="preserve">Prompt</text>
<text x="1468.23" y="1909.50" textLength="63.75" lengthAdjust="spacingAndGlyphs" font-family="Liberation Serif" font-size="37.5" font-style="italic" fill="#000" stroke="#000" stroke-width="0.45" xml:space="preserve">J/ψ</text>
<text x="1570.58" y="1909.50" textLength="464.40" lengthAdjust="spacingAndGlyphs" font-family="Liberation Serif" font-size="37.5" font-style="normal" fill="#000" stroke="#000" stroke-width="0.8" xml:space="preserve">fully longitudinally polarised</text>
<text x="798.58" y="122.90" textLength="24.53" lengthAdjust="spacingAndGlyphs" font-family="Liberation Serif" font-size="51.5" font-style="italic" fill="#000" stroke="#000" stroke-width="0.5" xml:space="preserve">s</text>
<text x="834.63" y="128.30" textLength="37.29" lengthAdjust="spacingAndGlyphs" font-family="Liberation Serif" font-size="54.0" font-style="normal" fill="#000" stroke="#000" stroke-width="0.9" xml:space="preserve">=</text>
<text x="880.92" y="122.20" textLength="27.74" lengthAdjust="spacingAndGlyphs" font-family="Liberation Serif" font-size="54.0" font-style="normal" fill="#000" stroke="#000" stroke-width="0.9" xml:space="preserve">5</text>
<text x="924.93" y="122.20" textLength="35.34" lengthAdjust="spacingAndGlyphs" font-family="Liberation Serif" font-size="54.0" font-style="normal" fill="#000" stroke="#000" stroke-width="0.9" xml:space="preserve">T</text>
<text x="964.00" y="122.20" textLength="62.97" lengthAdjust="spacingAndGlyphs" font-family="Liberation Serif" font-size="54.0" font-style="normal" fill="#000" stroke="#000" stroke-width="0.9" xml:space="preserve">eV</text>
<text x="1847.48" y="122.90" textLength="24.53" lengthAdjust="spacingAndGlyphs" font-family="Liberation Serif" font-size="51.5" font-style="italic" fill="#000" stroke="#000" stroke-width="0.5" xml:space="preserve">s</text>
<text x="1883.53" y="128.30" textLength="37.29" lengthAdjust="spacingAndGlyphs" font-family="Liberation Serif" font-size="54.0" font-style="normal" fill="#000" stroke="#000" stroke-width="0.9" xml:space="preserve">=</text>
<text x="1928.60" y="122.20" textLength="29.06" lengthAdjust="spacingAndGlyphs" font-family="Liberation Serif" font-size="54.0" font-style="normal" fill="#000" stroke="#000" stroke-width="0.9" xml:space="preserve">7</text>
<text x="1973.83" y="122.20" textLength="35.34" lengthAdjust="spacingAndGlyphs" font-family="Liberation Serif" font-size="54.0" font-style="normal" fill="#000" stroke="#000" stroke-width="0.9" xml:space="preserve">T</text>
<text x="2012.90" y="122.20" textLength="62.97" lengthAdjust="spacingAndGlyphs" font-family="Liberation Serif" font-size="54.0" font-style="normal" fill="#000" stroke="#000" stroke-width="0.9" xml:space="preserve">eV</text>
<text x="2873.58" y="120.70" textLength="24.53" lengthAdjust="spacingAndGlyphs" font-family="Liberation Serif" font-size="51.5" font-style="italic" fill="#000" stroke="#000" stroke-width="0.5" xml:space="preserve">s</text>
<text x="2911.63" y="126.10" textLength="37.29" lengthAdjust="spacingAndGlyphs" font-family="Liberation Serif" font-size="54.0" font-style="normal" fill="#000" stroke="#000" stroke-width="0.9" xml:space="preserve">=</text>
<text x="2955.70" y="120.00" textLength="57.22" lengthAdjust="spacingAndGlyphs" font-family="Liberation Serif" font-size="54.0" font-style="normal" fill="#000" stroke="#000" stroke-width="0.9" xml:space="preserve">13</text>
<text x="3027.23" y="120.00" textLength="35.34" lengthAdjust="spacingAndGlyphs" font-family="Liberation Serif" font-size="54.0" font-style="normal" fill="#000" stroke="#000" stroke-width="0.9" xml:space="preserve">T</text>
<text x="3066.30" y="120.00" textLength="62.97" lengthAdjust="spacingAndGlyphs" font-family="Liberation Serif" font-size="54.0" font-style="normal" fill="#000" stroke="#000" stroke-width="0.9" xml:space="preserve">eV</text>
<text x="798.58" y="1169.20" textLength="24.53" lengthAdjust="spacingAndGlyphs" font-family="Liberation Serif" font-size="51.5" font-style="italic" fill="#000" stroke="#000" stroke-width="0.5" xml:space="preserve">s</text>
<text x="834.63" y="1174.60" textLength="37.29" lengthAdjust="spacingAndGlyphs" font-family="Liberation Serif" font-size="54.0" font-style="normal" fill="#000" stroke="#000" stroke-width="0.9" xml:space="preserve">=</text>
<text x="880.92" y="1168.50" textLength="27.74" lengthAdjust="spacingAndGlyphs" font-family="Liberation Serif" font-size="54.0" font-style="normal" fill="#000" stroke="#000" stroke-width="0.9" xml:space="preserve">5</text>
<text x="924.93" y="1168.50" textLength="35.34" lengthAdjust="spacingAndGlyphs" font-family="Liberation Serif" font-size="54.0" font-style="normal" fill="#000" stroke="#000" stroke-width="0.9" xml:space="preserve">T</text>
<text x="964.00" y="1168.50" textLength="62.97" lengthAdjust="spacingAndGlyphs" font-family="Liberation Serif" font-size="54.0" font-style="normal" fill="#000" stroke="#000" stroke-width="0.9" xml:space="preserve">eV</text>
<text x="1846.18" y="1168.80" textLength="24.53" lengthAdjust="spacingAndGlyphs" font-family="Liberation Serif" font-size="51.5" font-style="italic" fill="#000" stroke="#000" stroke-width="0.5" xml:space="preserve">s</text>
<text x="1882.23" y="1174.20" textLength="37.29" lengthAdjust="spacingAndGlyphs" font-family="Liberation Serif" font-size="54.0" font-style="normal" fill="#000" stroke="#000" stroke-width="0.9" xml:space="preserve">=</text>
<text x="1927.30" y="1168.10" textLength="29.06" lengthAdjust="spacingAndGlyphs" font-family="Liberation Serif" font-size="54.0" font-style="normal" fill="#000" stroke="#000" stroke-width="0.9" xml:space="preserve">7</text>
<text x="1972.53" y="1168.10" textLength="35.34" lengthAdjust="spacingAndGlyphs" font-family="Liberation Serif" font-size="54.0" font-style="normal" fill="#000" stroke="#000" stroke-width="0.9" xml:space="preserve">T</text>
<text x="2011.60" y="1168.10" textLength="62.97" lengthAdjust="spacingAndGlyphs" font-family="Liberation Serif" font-size="54.0" font-style="normal" fill="#000" stroke="#000" stroke-width="0.9" xml:space="preserve">eV</text>
<text x="2873.58" y="1167.20" textLength="24.53" lengthAdjust="spacingAndGlyphs" font-family="Liberation Serif" font-size="51.5" font-style="italic" fill="#000" stroke="#000" stroke-width="0.5" xml:space="preserve">s</text>
<text x="2911.63" y="1172.60" textLength="37.29" lengthAdjust="spacingAndGlyphs" font-family="Liberation Serif" font-size="54.0" font-style="normal" fill="#000" stroke="#000" stroke-width="0.9" xml:space="preserve">=</text>
<text x="2955.70" y="1166.50" textLength="57.22" lengthAdjust="spacingAndGlyphs" font-family="Liberation Serif" font-size="54.0" font-style="normal" fill="#000" stroke="#000" stroke-width="0.9" xml:space="preserve">13</text>
<text x="3027.23" y="1166.50" textLength="35.34" lengthAdjust="spacingAndGlyphs" font-family="Liberation Serif" font-size="54.0" font-style="normal" fill="#000" stroke="#000" stroke-width="0.9" xml:space="preserve">T</text>
<text x="3066.30" y="1166.50" textLength="62.97" lengthAdjust="spacingAndGlyphs" font-family="Liberation Serif" font-size="54.0" font-style="normal" fill="#000" stroke="#000" stroke-width="0.9" xml:space="preserve">eV</text>
<text x="229.80" y="122.80" textLength="55.19" lengthAdjust="spacing" font-family="Liberation Serif" font-size="49.0" font-style="normal" fill="#000" stroke="#000" stroke-width="1.0" xml:space="preserve">(a)</text>
<text x="1282.90" y="124.50" textLength="60.84" lengthAdjust="spacing" font-family="Liberation Serif" font-size="49.0" font-style="normal" fill="#000" stroke="#000" stroke-width="1.0" xml:space="preserve">(b)</text>
<text x="2324.70" y="122.70" textLength="54.79" lengthAdjust="spacing" font-family="Liberation Serif" font-size="49.0" font-style="normal" fill="#000" stroke="#000" stroke-width="1.0" xml:space="preserve">(c)</text>
<text x="229.00" y="1170.20" textLength="61.54" lengthAdjust="spacing" font-family="Liberation Serif" font-size="49.0" font-style="normal" fill="#000" stroke="#000" stroke-width="1.0" xml:space="preserve">(d)</text>
<text x="1285.90" y="1160.30" textLength="58.59" lengthAdjust="spacing" font-family="Liberation Serif" font-size="49.0" font-style="normal" fill="#000" stroke="#000" stroke-width="1.0" xml:space="preserve">(e)</text>
<text x="2324.60" y="1164.50" textLength="52.15" lengthAdjust="spacing" font-family="Liberation Serif" font-size="49.0" font-style="normal" fill="#000" stroke="#000" stroke-width="1.0" xml:space="preserve">(f)</text>
<text x="609.60" y="1024.90" font-family="Liberation Sans" font-size="50.0" font-style="normal" fill="#000" stroke="#000" stroke-width="0.8" xml:space="preserve">y</text>
<text x="1655.20" y="1024.90" font-family="Liberation Sans" font-size="50.0" font-style="normal" fill="#000" stroke="#000" stroke-width="0.8" xml:space="preserve">y</text>
<text x="2702.25" y="1025.00" font-family="Liberation Sans" font-size="50.0" font-style="normal" fill="#000" stroke="#000" stroke-width="0.8" xml:space="preserve">y</text>
<text x="609.40" y="2070.90" font-family="Liberation Sans" font-size="50.0" font-style="normal" fill="#000" stroke="#000" stroke-width="0.8" xml:space="preserve">y</text>
<text x="1655.05" y="2070.90" font-family="Liberation Sans" font-size="50.0" font-style="normal" fill="#000" stroke="#000" stroke-width="0.8" xml:space="preserve">y</text>
<text x="2702.20" y="2070.90" font-family="Liberation Sans" font-size="50.0" font-style="normal" fill="#000" stroke="#000" stroke-width="0.8" xml:space="preserve">y</text>
</g>
</svg></body></html>
